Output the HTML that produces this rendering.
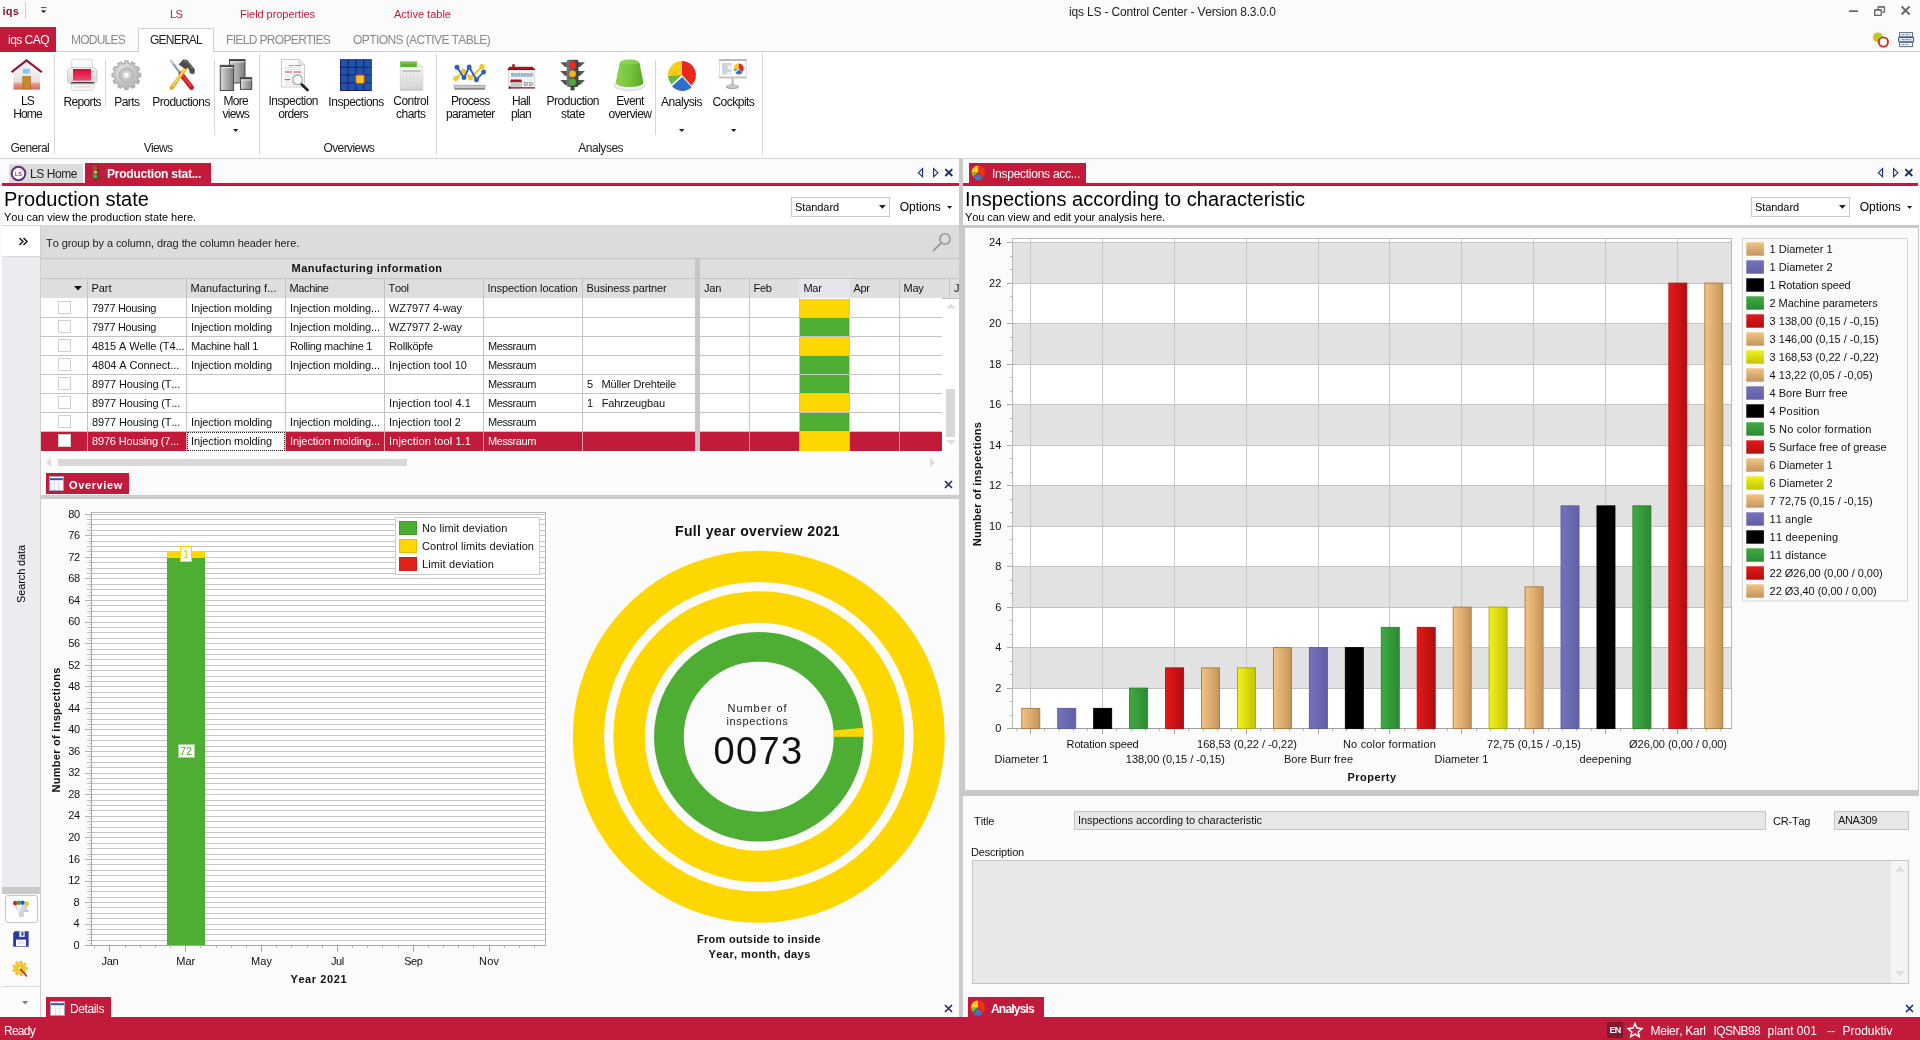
<!DOCTYPE html>
<html><head><meta charset="utf-8"><title>iqs LS</title>
<style>
html,body{margin:0;padding:0;background:#fbfbfb;}
body{width:1920px;height:1040px;position:relative;overflow:hidden;font-family:"Liberation Sans",sans-serif;font-kerning:none;}
.t{position:absolute;white-space:nowrap;}
.r{position:absolute;}
svg{overflow:visible}
svg text{font-family:"Liberation Sans",sans-serif}
#wrap{position:absolute;left:0;top:0;width:1920px;height:1040px;will-change:transform;}
</style></head><body><div id="wrap">
<div class="r" style="left:0px;top:0px;width:1920px;height:1040px;background:#fbfbfb;"></div>
<div class="t" style="left:2.60px;top:5px;font-size:11px;line-height:12px;color:#7d1433;font-weight:bold;letter-spacing:0.169px;">iqs</div>
<div class="r" style="left:25px;top:2px;width:1px;height:17px;background:#cccccc;"></div>
<svg class="r" style="left:0;top:0" width="60" height="20"><rect x="40.9" y="7.1" width="5.4" height="1" fill="#444"/><path d="M40.8 10.2h5.6l-2.8 3z" fill="#333"/></svg>
<div class="t" style="left:170.00px;top:8px;font-size:11px;line-height:12px;color:#c11a3b;letter-spacing:-0.727px;">LS</div>
<div class="t" style="left:240.00px;top:8px;font-size:11px;line-height:12px;color:#c11a3b;letter-spacing:-0.051px;">Field properties</div>
<div class="t" style="left:394.00px;top:8px;font-size:11px;line-height:12px;color:#c11a3b;letter-spacing:0.011px;">Active table</div>
<div class="t" style="left:1069.00px;top:5px;font-size:12px;line-height:14px;color:#222;letter-spacing:-0.165px;">iqs LS - Control Center - Version 8.3.0.0</div>
<svg class="r" style="left:0;top:0" width="1920" height="52"><rect x="1849" y="10.3" width="9" height="1.7" fill="#666"/><path d="M1878.2 9.3v-2.5h6.2v5.3h-2.4" fill="none" stroke="#666" stroke-width="1.3"/><rect x="1874.7" y="9.9" width="6.5" height="5.4" fill="none" stroke="#666" stroke-width="1.3"/><rect x="1874.7" y="9.4" width="6.5" height="1.2" fill="#666"/><rect x="1878.2" y="6.3" width="6.2" height="1.2" fill="#666"/><path d="M1901.6 6.5l8 8M1909.6 6.5l-8 8" stroke="#666" stroke-width="1.9"/></svg>
<div class="r" style="left:0px;top:51px;width:1920px;height:1px;background:#cfcfcf;"></div>
<div class="r" style="left:0px;top:27px;width:56px;height:25px;background:#c11a3b;"></div>
<div class="t" style="left:8.00px;top:33px;font-size:12px;line-height:14px;color:#fff;letter-spacing:-0.525px;">iqs CAQ</div>
<div class="t" style="left:71.00px;top:33px;font-size:12px;line-height:14px;color:#8a8a8a;letter-spacing:-0.763px;">MODULES</div>
<div class="r" style="left:138px;top:28px;width:76px;height:24px;background:#fff;border:1px solid #cfcfcf;border-bottom:none;box-sizing:border-box"></div>
<div class="t" style="left:150.00px;top:33px;font-size:12px;line-height:14px;color:#222;letter-spacing:-0.765px;">GENERAL</div>
<div class="t" style="left:226.00px;top:33px;font-size:12px;line-height:14px;color:#8a8a8a;letter-spacing:-0.655px;">FIELD PROPERTIES</div>
<div class="t" style="left:353.00px;top:33px;font-size:12px;line-height:14px;color:#8a8a8a;letter-spacing:-0.587px;">OPTIONS (ACTIVE TABLE)</div>
<div class="r" style="left:0px;top:52px;width:1920px;height:106px;background:#fff;"></div>
<div class="r" style="left:0px;top:158px;width:1920px;height:1px;background:#d4d4d4;"></div>
<div class="r" style="left:54px;top:54px;width:1px;height:100px;background:#d6d6d6;"></div>
<div class="r" style="left:259px;top:54px;width:1px;height:100px;background:#d6d6d6;"></div>
<div class="r" style="left:436px;top:54px;width:1px;height:100px;background:#d6d6d6;"></div>
<div class="r" style="left:762px;top:54px;width:1px;height:100px;background:#d6d6d6;"></div>
<div class="r" style="left:105px;top:60px;width:1px;height:47px;background:#d6d6d6;"></div>
<div class="r" style="left:214px;top:60px;width:1px;height:75px;background:#d6d6d6;"></div>
<div class="r" style="left:655px;top:60px;width:1px;height:75px;background:#d6d6d6;"></div>
<svg class="r" style="left:0;top:0" width="800" height="100"><defs>
<linearGradient id="gw" x1="0" x2="1"><stop offset="0" stop-color="#d8d8d8"/><stop offset="1" stop-color="#7c7c7c"/></linearGradient>
<linearGradient id="hw" x1="0" x2="0" y1="0" y2="1"><stop offset="0" stop-color="#f4f4f4"/><stop offset="0.6" stop-color="#e4e0de"/><stop offset="0.72" stop-color="#e89888"/><stop offset="1" stop-color="#d86858"/></linearGradient>
<linearGradient id="pr" x1="0" x2="0" y1="0" y2="1"><stop offset="0" stop-color="#e00838"/><stop offset="1" stop-color="#e8486a"/></linearGradient>
<linearGradient id="pb" x1="0" x2="0" y1="0" y2="1"><stop offset="0" stop-color="#f4f4f4"/><stop offset="1" stop-color="#d0d0d0"/></linearGradient>
<radialGradient id="gg" cx="0.4" cy="0.35" r="0.7"><stop offset="0" stop-color="#e6e6e6"/><stop offset="1" stop-color="#b0b0b0"/></radialGradient>
<linearGradient id="tlb" x1="0" x2="1"><stop offset="0" stop-color="#777"/><stop offset="1" stop-color="#3c3c3c"/></linearGradient>
<linearGradient id="dome" x1="0" x2="1"><stop offset="0" stop-color="#8cd050"/><stop offset="0.45" stop-color="#7cc640"/><stop offset="1" stop-color="#58a828"/></linearGradient>
<linearGradient id="cc" x1="0" x2="0" y1="0" y2="1"><stop offset="0" stop-color="#fafafa"/><stop offset="1" stop-color="#d4d4d4"/></linearGradient>
</defs><rect x="13.5" y="69.6" width="26.5" height="20" fill="url(#hw)"/><path d="M26.5 61.6L14 72.6h25z" fill="#f0f0f0"/><rect x="22.6" y="68.4" width="7.6" height="5.6" fill="#8cc4ec" stroke="#e8f0f8" stroke-width="0.8"/><rect x="22.8" y="76.5" width="7.6" height="12.5" fill="#c8882c" stroke="#a06818" stroke-width="0.6"/><path d="M11.6 72.2L26.5 60.4 41.8 72.2" fill="none" stroke="#8e1838" stroke-width="2.2" stroke-linejoin="miter"/><rect x="71.7" y="59.3" width="20.5" height="12" rx="1" fill="#fbfbfb" stroke="#d0d0d0" stroke-width="0.8"/><rect x="67.5" y="67.5" width="29.5" height="17" rx="4.5" fill="url(#pb)" stroke="#c4c4c4" stroke-width="0.8"/><rect x="73" y="69" width="18" height="11.6" fill="url(#pr)"/><rect x="71" y="82" width="23" height="1.6" rx="0.8" fill="#444"/><rect x="71.5" y="84.2" width="22" height="6.3" rx="1" fill="#f4f4f4" stroke="#d4d4d4" stroke-width="0.7"/><rect x="74" y="86.3" width="17" height="1" fill="#e8c8d0"/><circle cx="93" cy="71.6" r="0.8" fill="#7a9"/><path d="M138.15 73.24L140.61 73.53L140.61 76.67L138.15 76.96L137.51 79.36L139.49 80.85L137.92 83.57L135.65 82.59L133.89 84.35L134.87 86.62L132.15 88.19L130.66 86.21L128.26 86.85L127.97 89.31L124.83 89.31L124.54 86.85L122.14 86.21L120.65 88.19L117.93 86.62L118.91 84.35L117.15 82.59L114.88 83.57L113.31 80.85L115.29 79.36L114.65 76.96L112.19 76.67L112.19 73.53L114.65 73.24L115.29 70.84L113.31 69.35L114.88 66.63L117.15 67.61L118.91 65.85L117.93 63.58L120.65 62.01L122.14 63.99L124.54 63.35L124.83 60.89L127.97 60.89L128.26 63.35L130.66 63.99L132.15 62.01L134.87 63.58L133.89 65.85L135.65 67.61L137.92 66.63L139.49 69.35L137.51 70.84Z" fill="url(#gg)" stroke="#b0b0b0" stroke-width="1.4" stroke-linejoin="round"/><circle cx="126.4" cy="75" r="7.3" fill="#c4c4c4" stroke="#a8a8a8" stroke-width="0.8"/><circle cx="126.4" cy="75" r="4.6" fill="#d8d8d8" stroke="#b4b4b4" stroke-width="0.6"/><circle cx="126.4" cy="75" r="2.3" fill="#fff"/><path d="M171 60.8L181.5 75" stroke="#94a2b8" stroke-width="2.3" stroke-linecap="round"/><path d="M171 60.8L173 63.4" stroke="#c8d0dc" stroke-width="2.3" stroke-linecap="round"/><path d="M181 74L191.5 87.5" stroke="#cc1c24" stroke-width="5" stroke-linecap="round"/><path d="M171.5 88L187 66.5" stroke="#f0b41c" stroke-width="3.6" stroke-linecap="round"/><path d="M171.5 88L175 83" stroke="#e0a414" stroke-width="3.6" stroke-linecap="round"/><path d="M172.4 86.4L186 67.4" stroke="#ffe070" stroke-width="1.1" stroke-linecap="round"/><path d="M183 76L190.5 85.6" stroke="#f0505a" stroke-width="1.2" stroke-linecap="round"/><path d="M179 64.4L183.2 59.7 187.3 60.2 194.6 69.6 194.1 73.8 190.5 73.3 188.4 67.5 185.2 68.6 181.1 66z" fill="#4c4c4c" stroke="#3a3a3a" stroke-width="0.5" stroke-linejoin="round"/><path d="M183.6 61l3.2 0.4 5.6 7.4" fill="none" stroke="#8a8a8a" stroke-width="0.9"/><rect x="229.5" y="59.5" width="15.5" height="23.5" fill="url(#gw)" stroke="#4c4c4c" stroke-width="1"/><rect x="230.0" y="60.0" width="14.5" height="1.3" fill="#3c3c3c"/><rect x="230.0" y="61.4" width="14.5" height="0.9" fill="#f8f8f8"/><rect x="220.3" y="65.3" width="13.3" height="25.2" fill="url(#gw)" stroke="#4c4c4c" stroke-width="1"/><rect x="220.8" y="65.8" width="12.3" height="1.3" fill="#3c3c3c"/><rect x="220.8" y="67.2" width="12.3" height="0.9" fill="#f8f8f8"/><rect x="240.5" y="77.6" width="11.2" height="11.8" fill="url(#gw)" stroke="#4c4c4c" stroke-width="1"/><rect x="241.0" y="78.1" width="10.2" height="1.3" fill="#3c3c3c"/><rect x="241.0" y="79.5" width="10.2" height="0.9" fill="#f8f8f8"/><path d="M281.5 59.5h17.5l5.5 5.5v22h-23z" fill="#fbfbfb" stroke="#c4c4c4" stroke-width="0.9"/><path d="M299 59.5v5.5h5.5z" fill="#e8e8e8" stroke="#c4c4c4" stroke-width="0.7"/><rect x="284.5" y="67" width="17" height="0.7" fill="#e0d8dc"/><rect x="284.5" y="69.2" width="17" height="0.7" fill="#e0d8dc"/><rect x="284.5" y="74.5" width="17" height="0.7" fill="#e0d8dc"/><rect x="284.5" y="76.6" width="17" height="0.7" fill="#e0d8dc"/><rect x="284.5" y="82" width="17" height="0.7" fill="#e0d8dc"/><rect x="284.5" y="84" width="17" height="0.7" fill="#e0d8dc"/><rect x="284.8" y="71.4" width="7" height="1.2" fill="#e0507a"/><rect x="293.5" y="71.4" width="7.5" height="1.2" fill="#e0507a"/><rect x="284.8" y="79" width="5.5" height="1.2" fill="#e0507a"/><rect x="289" y="65" width="5" height="1.1" fill="#e8809c"/><rect x="295" y="65" width="6" height="1.1" fill="#e8809c"/><path d="M301.5 84.2L307.5 90" stroke="#222" stroke-width="2.6" stroke-linecap="round"/><circle cx="297.6" cy="79.8" r="4.9" fill="#f4f6f8" fill-opacity="0.88" stroke="#a0a0a0" stroke-width="1.1"/><rect x="340" y="59.2" width="31.8" height="31.8" fill="#24186c"/><rect x="340.90" y="60.10" width="6.8" height="6.8" fill="#1f55a8"/><rect x="348.65" y="60.10" width="6.8" height="6.8" fill="#1f55a8"/><rect x="356.40" y="60.10" width="6.8" height="6.8" fill="#1f55a8"/><rect x="364.15" y="60.10" width="6.8" height="6.8" fill="#1f55a8"/><rect x="340.90" y="67.85" width="6.8" height="6.8" fill="#1f55a8"/><rect x="348.65" y="67.85" width="6.8" height="6.8" fill="#1f55a8"/><rect x="356.40" y="67.85" width="6.8" height="6.8" fill="#1f55a8"/><rect x="364.15" y="67.85" width="6.8" height="6.8" fill="#1f55a8"/><rect x="340.90" y="75.60" width="6.8" height="6.8" fill="#1f55a8"/><rect x="348.65" y="75.60" width="6.8" height="6.8" fill="#1f55a8"/><rect x="356.40" y="75.60" width="6.8" height="6.8" fill="#1f55a8"/><rect x="364.15" y="75.60" width="6.8" height="6.8" fill="#1f55a8"/><rect x="340.90" y="83.35" width="6.8" height="6.8" fill="#1f55a8"/><rect x="348.65" y="83.35" width="6.8" height="6.8" fill="#1f55a8"/><rect x="356.40" y="83.35" width="6.8" height="6.8" fill="#1f55a8"/><rect x="364.15" y="83.35" width="6.8" height="6.8" fill="#1f55a8"/><rect x="355.9" y="75.1" width="8.2" height="8.2" fill="#ffc818" stroke="#e04818" stroke-width="0.9"/><path d="M400.3 66.5h16.5l6 0v24h-22.5z" fill="url(#cc)" stroke="#cfcfcf" stroke-width="0.7"/><path d="M400.3 61.6h16.8v5.6h-16.8z" fill="#5cb030"/><path d="M400.3 61.6h16.8v2h-16.8z" fill="#7cc848"/><path d="M417.1 61.6l5.7 5.6h-5.7z" fill="#e8ece4" stroke="#d0d4cc" stroke-width="0.5"/><rect x="402.3" y="70" width="18.5" height="2.2" fill="#c4c4c4"/><rect x="402.3" y="74.65" width="18.5" height="0.6" fill="#d8d8d8"/><rect x="402.3" y="77.10" width="18.5" height="0.6" fill="#d8d8d8"/><rect x="402.3" y="79.55" width="18.5" height="0.6" fill="#d8d8d8"/><rect x="402.3" y="82.00" width="18.5" height="0.6" fill="#d8d8d8"/><rect x="402.3" y="84.45" width="18.5" height="0.6" fill="#d8d8d8"/><rect x="402.3" y="86.90" width="18.5" height="0.6" fill="#d8d8d8"/><rect x="402.30" y="72.2" width="0.6" height="15.2" fill="#d8d8d8"/><rect x="406.00" y="72.2" width="0.6" height="15.2" fill="#d8d8d8"/><rect x="409.70" y="72.2" width="0.6" height="15.2" fill="#d8d8d8"/><rect x="413.40" y="72.2" width="0.6" height="15.2" fill="#d8d8d8"/><rect x="417.10" y="72.2" width="0.6" height="15.2" fill="#d8d8d8"/><rect x="420.80" y="72.2" width="0.6" height="15.2" fill="#d8d8d8"/><rect x="400.3" y="88.3" width="22.5" height="2.2" fill="#cfcfcf"/><path d="M454 85.3h31.5l-1 4h-29.5z" fill="#c8c8c8" stroke="#9c9c9c" stroke-width="0.7"/><rect x="454.6" y="88" width="30" height="1.5" fill="#888"/><path d="M455.8 78.6L463.6 71.2 470.4 78 482 66.6" fill="none" stroke="#f0c010" stroke-width="1.8"/><path d="M457 67.2L464 77.6 469.2 67 476.4 79.8 483.6 72" fill="none" stroke="#2858c0" stroke-width="1.8"/><circle cx="455.8" cy="78.6" r="2.3" fill="#f8cc20" stroke="#d8a800" stroke-width="0.5"/><circle cx="463.6" cy="71.2" r="2.3" fill="#f8cc20" stroke="#d8a800" stroke-width="0.5"/><circle cx="470.4" cy="78" r="2.3" fill="#f8cc20" stroke="#d8a800" stroke-width="0.5"/><circle cx="482" cy="66.6" r="2.3" fill="#f8cc20" stroke="#d8a800" stroke-width="0.5"/><circle cx="457" cy="67.2" r="2.2" fill="#2c60c8" stroke="#1c48a0" stroke-width="0.5"/><circle cx="464" cy="77.6" r="2.2" fill="#2c60c8" stroke="#1c48a0" stroke-width="0.5"/><circle cx="469.2" cy="67" r="2.2" fill="#2c60c8" stroke="#1c48a0" stroke-width="0.5"/><circle cx="476.4" cy="79.8" r="2.2" fill="#2c60c8" stroke="#1c48a0" stroke-width="0.5"/><circle cx="483.6" cy="72" r="2.2" fill="#2c60c8" stroke="#1c48a0" stroke-width="0.5"/><rect x="508.6" y="69.4" width="26.2" height="19" fill="#f2f2f2" stroke="#c0c0c0" stroke-width="0.6"/><rect x="512.2" y="64.2" width="2.6" height="3.6" fill="#b01828"/><path d="M507.6 69.6l1.6-2.8h23.4l2.6 2.8z" fill="#a81424"/><rect x="507.6" y="69" width="27.6" height="1" fill="#7c0c18"/><rect x="511.5" y="73.4" width="20.8" height="2.8" fill="#8cb0d8" stroke="#7890a8" stroke-width="0.4"/><rect x="514.47" y="73.4" width="0.6" height="2.8" fill="#e8eef4"/><rect x="517.44" y="73.4" width="0.6" height="2.8" fill="#e8eef4"/><rect x="520.41" y="73.4" width="0.6" height="2.8" fill="#e8eef4"/><rect x="523.38" y="73.4" width="0.6" height="2.8" fill="#e8eef4"/><rect x="526.35" y="73.4" width="0.6" height="2.8" fill="#e8eef4"/><rect x="529.32" y="73.4" width="0.6" height="2.8" fill="#e8eef4"/><path d="M510 82.2l1-2.8h10.2l1 2.8z" fill="#a81424"/><rect x="511.3" y="82.2" width="10" height="6.4" fill="#d4d4d4" stroke="#a8a8a8" stroke-width="0.5"/><rect x="511.3" y="83.80" width="10" height="0.5" fill="#b4b4b4"/><rect x="511.3" y="85.40" width="10" height="0.5" fill="#b4b4b4"/><rect x="511.3" y="87.00" width="10" height="0.5" fill="#b4b4b4"/><rect x="524.2" y="82.4" width="3.2" height="3.2" fill="#c0d0e0" stroke="#888" stroke-width="0.6"/><rect x="529.2" y="82.4" width="3.2" height="3.2" fill="#c0d0e0" stroke="#888" stroke-width="0.6"/><rect x="508.6" y="87.2" width="26.2" height="1.2" fill="#a81424"/><rect x="509" y="86.4" width="1.6" height="2.4" fill="#333"/><g transform="translate(560.2,59.2) scale(0.99)"><path d="M0 3h25l-5 5h-15zM0 12h25l-5 5h-15zM0 21h25l-5 5h-15z" fill="#555"/><rect x="6.5" y="0.5" width="12" height="27.5" rx="2" fill="url(#tlb)"/><rect x="10.5" y="27" width="4" height="4.5" fill="#444"/><circle cx="12.5" cy="6" r="3.4" fill="#ee2a1c"/><circle cx="12.5" cy="14.7" r="3.4" fill="#f6b41c"/><circle cx="12.5" cy="23.2" r="3.4" fill="#48b030"/></g><ellipse cx="629.5" cy="85.2" rx="15.4" ry="5.3" fill="#ececec" stroke="#c8c8c8" stroke-width="0.7"/><ellipse cx="629.5" cy="84.2" rx="14" ry="4.2" fill="#fafafa"/><path d="M619.6 63.5Q620 59.6 629.5 59.4Q639.2 59.6 639.6 63.5L643.4 82.6Q643 87 629.5 87Q616 87 615.7 82.6Z" fill="url(#dome)"/><ellipse cx="629.5" cy="62.3" rx="9.3" ry="2.3" fill="#90d458" fill-opacity="0.8"/><path d="M682.00 75.00L681.51 61.01A14 14 0 0 1 691.37 85.40Z" fill="#e8281c"/><path d="M682.40 76.90L691.77 87.30A14 14 0 0 1 672.00 86.27Z" fill="#2f6fc8"/><path d="M682.00 75.00L671.60 84.37A14 14 0 0 1 668.01 75.49Z" fill="#6cb83a"/><path d="M682.00 75.00L668.01 75.49A14 14 0 0 1 681.51 61.01Z" fill="#f8cc18"/><rect x="719.6" y="60" width="26.6" height="17.6" fill="#fcfcfc" stroke="#d0d4d8" stroke-width="0.8"/><rect x="719" y="59" width="27.9" height="2.1" rx="0.8" fill="#b8b8b8"/><rect x="719" y="76.4" width="27.9" height="2.1" rx="0.8" fill="#c4c4c4"/><rect x="722" y="63" width="9.4" height="11.4" fill="#ccd4e0"/><rect x="727.5" y="65.6" width="4" height="3.6" fill="#f4f4f4"/><rect x="727.5" y="72" width="4" height="2.4" fill="#f4f4f4"/><path d="M738.60 68.40L738.43 63.40A5 5 0 0 1 741.95 72.12Z" fill="#e8281c"/><path d="M739.10 69.40L742.45 73.12A5 5 0 0 1 735.38 72.75Z" fill="#2f6fc8"/><path d="M738.60 68.40L734.88 71.75A5 5 0 0 1 733.60 68.57Z" fill="#6cb83a"/><path d="M738.60 68.40L733.60 68.57A5 5 0 0 1 738.43 63.40Z" fill="#f8cc18"/><rect x="731.5" y="78.5" width="2" height="7" fill="#b4b4b4"/><ellipse cx="732.5" cy="86.8" rx="6.6" ry="2.5" fill="#a8a8a8"/><ellipse cx="732.5" cy="86.2" rx="5.6" ry="1.7" fill="#c8c8c8"/></svg>
<div class="t" style="left:21.00px;top:94px;font-size:12px;line-height:14px;color:#111;letter-spacing:-0.839px;">LS</div>
<div class="t" style="left:13.25px;top:107px;font-size:12px;line-height:14px;color:#111;letter-spacing:-0.877px;">Home</div>
<div class="t" style="left:63.45px;top:95px;font-size:12px;line-height:14px;color:#111;letter-spacing:-0.645px;">Reports</div>
<div class="t" style="left:114.30px;top:95px;font-size:12px;line-height:14px;color:#111;letter-spacing:-0.602px;">Parts</div>
<div class="t" style="left:152.30px;top:95px;font-size:12px;line-height:14px;color:#111;letter-spacing:-0.525px;">Productions</div>
<div class="t" style="left:223.50px;top:94px;font-size:12px;line-height:14px;color:#111;letter-spacing:-0.685px;">More</div>
<div class="t" style="left:222.55px;top:107px;font-size:12px;line-height:14px;color:#111;letter-spacing:-0.701px;">views</div>
<svg class="r" style="left:233.10000000000002px;top:128.5px" width="6" height="4"><path d="M0 0h5.4l-2.7 3z" fill="#222"/></svg>
<div class="t" style="left:268.40px;top:94px;font-size:12px;line-height:14px;color:#111;letter-spacing:-0.510px;">Inspection</div>
<div class="t" style="left:278.30px;top:107px;font-size:12px;line-height:14px;color:#111;letter-spacing:-0.702px;">orders</div>
<div class="t" style="left:328.35px;top:95px;font-size:12px;line-height:14px;color:#111;letter-spacing:-0.473px;">Inspections</div>
<div class="t" style="left:393.30px;top:94px;font-size:12px;line-height:14px;color:#111;letter-spacing:-0.526px;">Control</div>
<div class="t" style="left:396.10px;top:107px;font-size:12px;line-height:14px;color:#111;letter-spacing:-0.546px;">charts</div>
<div class="t" style="left:451.00px;top:94px;font-size:12px;line-height:14px;color:#111;letter-spacing:-0.678px;">Process</div>
<div class="t" style="left:445.90px;top:107px;font-size:12px;line-height:14px;color:#111;letter-spacing:-0.655px;">parameter</div>
<div class="t" style="left:512.00px;top:94px;font-size:12px;line-height:14px;color:#111;letter-spacing:-0.668px;">Hall</div>
<div class="t" style="left:511.00px;top:107px;font-size:12px;line-height:14px;color:#111;letter-spacing:-0.672px;">plan</div>
<div class="t" style="left:546.55px;top:94px;font-size:12px;line-height:14px;color:#111;letter-spacing:-0.487px;">Production</div>
<div class="t" style="left:561.00px;top:107px;font-size:12px;line-height:14px;color:#111;letter-spacing:-0.483px;">state</div>
<div class="t" style="left:616.15px;top:94px;font-size:12px;line-height:14px;color:#111;letter-spacing:-0.597px;">Event</div>
<div class="t" style="left:608.55px;top:107px;font-size:12px;line-height:14px;color:#111;letter-spacing:-0.556px;">overview</div>
<div class="t" style="left:660.95px;top:95px;font-size:12px;line-height:14px;color:#111;letter-spacing:-0.448px;">Analysis</div>
<svg class="r" style="left:678.8px;top:128.5px" width="6" height="4"><path d="M0 0h5.4l-2.7 3z" fill="#222"/></svg>
<div class="t" style="left:712.45px;top:95px;font-size:12px;line-height:14px;color:#111;letter-spacing:-0.514px;">Cockpits</div>
<svg class="r" style="left:730.6999999999999px;top:128.5px" width="6" height="4"><path d="M0 0h5.4l-2.7 3z" fill="#222"/></svg>
<div class="t" style="left:10.60px;top:141px;font-size:12px;line-height:14px;color:#222;letter-spacing:-0.613px;">General</div>
<div class="t" style="left:143.80px;top:141px;font-size:12px;line-height:14px;color:#222;letter-spacing:-0.719px;">Views</div>
<div class="t" style="left:323.40px;top:141px;font-size:12px;line-height:14px;color:#222;letter-spacing:-0.579px;">Overviews</div>
<div class="t" style="left:578.30px;top:141px;font-size:12px;line-height:14px;color:#222;letter-spacing:-0.486px;">Analyses</div>
<svg class="r" style="left:0;top:0" width="1920" height="52"><circle cx="1877.8" cy="37.3" r="4.9" fill="#e8b818"/><circle cx="1878.6" cy="37.6" r="4" fill="#b8cc20"/><circle cx="1883.4" cy="42" r="4.6" fill="#fff" stroke="#d42c1c" stroke-width="1.9"/><rect x="1899.6" y="32.6" width="13" height="4.2" fill="#fbfbfb" stroke="#5a6878" stroke-width="1"/><rect x="1898.6" y="37.4" width="15" height="4.4" rx="0.8" fill="#dcecfc" stroke="#4a6078" stroke-width="1.1"/><rect x="1899.6" y="42.4" width="13" height="4.2" fill="#fbfbfb" stroke="#5a6878" stroke-width="1"/><path d="M1901.5 34.7h9M1901.5 39.6h9.5M1901.5 44.5h7" stroke="#6a7888" stroke-width="0.9" stroke-dasharray="3 1"/></svg>
<div class="r" style="left:9px;top:164px;width:74px;height:19px;background:#dcdcdc;"></div>
<svg class="r" style="left:10px;top:165px" width="17" height="17"><circle cx="8.5" cy="8.5" r="6.8" fill="#fff" stroke="#6a2a8a" stroke-width="2"/><text x="8.5" y="10.6" font-size="5.5" font-weight="bold" text-anchor="middle" fill="#6a2a8a" font-family="Liberation Sans">LS</text></svg>
<div class="t" style="left:30.00px;top:167px;font-size:12px;line-height:14px;color:#222;letter-spacing:-0.432px;">LS Home</div>
<div class="r" style="left:85px;top:163px;width:126px;height:21px;background:#c11a3b;"></div>
<svg class="r" style="left:0;top:0" width="200" height="200"><defs><linearGradient id="tlb2" x1="0" x2="1"><stop offset="0" stop-color="#7a6a50"/><stop offset="1" stop-color="#3c3830"/></linearGradient></defs><g transform="translate(90.3,165)"><path d="M0 1.5h10.6l-2 2.6h-6.6zM0 6h10.6l-2 2.6h-6.6zM0 10.5h10.6l-2 2.6h-6.6z" fill="#5a5040"/><rect x="2.6" y="0" width="5.4" height="14" rx="1" fill="url(#tlb2)"/><rect x="4.3" y="13.5" width="2" height="2.3" fill="#444"/><circle cx="5.3" cy="2.9" r="1.7" fill="#e83a20"/><circle cx="5.3" cy="7.2" r="1.7" fill="#f4b020"/><circle cx="5.3" cy="11.4" r="1.7" fill="#58b838"/></g></svg>
<div class="t" style="left:107.00px;top:167px;font-size:12px;line-height:14px;color:#fff;font-weight:bold;letter-spacing:-0.222px;">Production stat...</div>
<div class="r" style="left:2px;top:183px;width:957px;height:3px;background:#c11a3b;"></div>
<svg class="r" style="left:915px;top:166px" width="42" height="14"><path d="M7.6 2.6v8.2l-4.3-4.1z" fill="none" stroke="#1a2a6a" stroke-width="1.1"/><path d="M18.6 2.6v8.2l4.3-4.1z" fill="none" stroke="#1a2a6a" stroke-width="1.1"/><path d="M30.3 3.2l7 6.8M37.3 3.2l-7 6.8" stroke="#1a2a6a" stroke-width="1.8"/></svg>
<div class="r" style="left:969px;top:163px;width:117px;height:21px;background:#c11a3b;"></div>
<svg class="r" style="left:0;top:0" width="1920" height="1040"><path d="M978.30 172.30L978.06 165.50A6.8 6.8 0 0 1 982.85 177.35Z" fill="#ee3018"/><path d="M978.60 173.40L983.15 178.45A6.8 6.8 0 0 1 973.55 177.95Z" fill="#3878c8"/><path d="M978.30 172.30L973.25 176.85A6.8 6.8 0 0 1 971.50 172.54Z" fill="#70bc38"/><path d="M978.30 172.30L971.50 172.54A6.8 6.8 0 0 1 978.06 165.50Z" fill="#fad018"/></svg>
<div class="t" style="left:992.00px;top:167px;font-size:12px;line-height:14px;color:#fff;letter-spacing:-0.262px;">Inspections acc...</div>
<div class="r" style="left:963px;top:183px;width:955px;height:3px;background:#c11a3b;"></div>
<svg class="r" style="left:1875px;top:166px" width="42" height="14"><path d="M7.6 2.6v8.2l-4.3-4.1z" fill="none" stroke="#1a2a6a" stroke-width="1.1"/><path d="M18.6 2.6v8.2l4.3-4.1z" fill="none" stroke="#1a2a6a" stroke-width="1.1"/><path d="M30.3 3.2l7 6.8M37.3 3.2l-7 6.8" stroke="#1a2a6a" stroke-width="1.8"/></svg>
<div class="r" style="left:959px;top:159px;width:4px;height:858px;background:#cacaca;"></div>
<div class="r" style="left:2px;top:186px;width:957px;height:40px;background:#fff;"></div>
<div class="t" style="left:4.00px;top:188px;font-size:20px;line-height:22px;color:#000;letter-spacing:0.029px;">Production state</div>
<div class="t" style="left:4.00px;top:211px;font-size:11px;line-height:12px;color:#000;letter-spacing:-0.031px;">You can view the production state here.</div>
<div class="r" style="left:791px;top:197px;width:99px;height:20px;background:#fff;border:1px solid #c6c6c6;box-sizing:border-box"></div><div class="t" style="left:795.00px;top:201px;font-size:11px;line-height:12px;color:#000;letter-spacing:-0.081px;">Standard</div><svg class="r" style="left:879.2px;top:205.2px" width="8" height="5"><path d="M0 0h6.8l-3.4 3.8z" fill="#222"/></svg><div class="t" style="left:899.80px;top:200px;font-size:12px;line-height:14px;color:#000;letter-spacing:-0.051px;">Options</div><svg class="r" style="left:946.8px;top:206px" width="6" height="4"><path d="M0 0h5.2l-2.6 2.9z" fill="#222"/></svg>
<div class="r" style="left:2px;top:225px;width:957px;height:1px;background:#d8d8d8;"></div>
<div class="r" style="left:2px;top:226px;width:38px;height:792px;background:#ececf0;"></div>
<div class="r" style="left:2px;top:226px;width:38px;height:30px;background:#fff;"></div>
<div class="r" style="left:2px;top:256px;width:38px;height:1px;background:#d8d8d8;"></div>
<svg class="r" style="left:18px;top:237px" width="10" height="9"><path d="M1.5 1l3.5 3.5-3.5 3.5M5.5 1l3.5 3.5-3.5 3.5" fill="none" stroke="#111" stroke-width="1.4"/></svg>
<div class="t" style="left:0.00px;top:-10px;font-size:11px;line-height:12px;color:#000;letter-spacing:-0.120px;left:-8px;top:567.5px;transform:rotate(-90deg);transform-origin:center;width:58px;white-space:nowrap">Search data</div>
<div class="r" style="left:2px;top:887px;width:38px;height:7px;background:#c8c8c8;"></div>
<div class="r" style="left:2px;top:894px;width:38px;height:123px;background:#fcfcfc;"></div>
<div class="r" style="left:4.5px;top:895px;width:33px;height:27.5px;background:#fff;border:1px solid #c4c4c4;border-radius:3px;box-sizing:border-box"></div>
<svg class="r" style="left:0;top:0" width="44" height="1040"><path d="M13.8 904.5h15l-5.6 8v4h-3.6v-4z" fill="#d4d8dc" stroke="#b0b4b8" stroke-width="0.6"/><path d="M16 905.3h6l-2.4 7z" fill="#f4f6f8"/><path d="M25 909.5h3.6v2.6h-5z" fill="#c8ccd0"/><circle cx="15.2" cy="903" r="2.2" fill="#e02020"/><circle cx="18.8" cy="902.6" r="2.2" fill="#38a838"/><circle cx="22.6" cy="902.6" r="2.2" fill="#2858c8"/><circle cx="26.8" cy="903.4" r="2.2" fill="#f0c820"/><path d="M14.8 931.3h13.8v15.4h-15.4v-13.8z" fill="#2c3a9c"/><rect x="19.3" y="931.3" width="5.4" height="5.6" fill="#e8ecf8"/><rect x="21.6" y="932.2" width="1.8" height="3.4" fill="#2c3a9c"/><rect x="16" y="939.6" width="10" height="6.6" fill="#fbfbff"/><rect x="17.5" y="941.6" width="7" height="0.7" fill="#c8cce0"/><rect x="17.5" y="943.4" width="7" height="0.7" fill="#c8cce0"/><path d="M25.48 967.24L27.32 967.32L27.32 969.48L25.48 969.56L24.94 971.03L26.30 972.28L24.91 973.93L23.45 972.81L22.10 973.59L22.34 975.42L20.21 975.80L19.80 974.00L18.27 973.73L17.28 975.28L15.40 974.20L16.25 972.56L15.25 971.37L13.49 971.92L12.75 969.89L14.45 969.18L14.45 967.62L12.75 966.91L13.49 964.88L15.25 965.43L16.25 964.24L15.40 962.60L17.28 961.52L18.27 963.07L19.80 962.80L20.21 961.00L22.34 961.38L22.10 963.21L23.45 963.99L24.91 962.87L26.30 964.52L24.94 965.77Z" fill="#f4cc30" stroke="#dcae18" stroke-width="0.6" stroke-linejoin="round"/><circle cx="20" cy="968.4" r="2" fill="#fbf4d0" stroke="#b89818" stroke-width="0.6"/><path d="M21.6 970.4L26.6 976" stroke="#c81818" stroke-width="1.5" stroke-linecap="round"/><circle cx="20.8" cy="969.4" r="0.9" fill="#444"/></svg>
<div class="r" style="left:2px;top:986px;width:38px;height:1px;background:#d8d8d8;"></div>
<svg class="r" style="left:21.5px;top:1001px" width="8" height="5"><path d="M0 0h6.4l-3.2 3.4z" fill="#808080"/></svg>
<div class="r" style="left:40px;top:226px;width:919px;height:33px;background:#dcdcdc;"></div>
<div class="t" style="left:46.00px;top:237px;font-size:11px;line-height:12px;color:#222;letter-spacing:-0.072px;">To group by a column, drag the column header here.</div>
<svg class="r" style="left:930px;top:231px" width="24" height="22"><circle cx="15" cy="8" r="5.2" fill="none" stroke="#999" stroke-width="1.6"/><path d="M11.2 12L3 20" stroke="#999" stroke-width="1.8"/></svg>
<div class="r" style="left:40px;top:258px;width:919px;height:41px;background:#dedede;"></div>
<div class="r" style="left:40px;top:258px;width:919px;height:1px;background:#c3c3c3;"></div>
<div class="r" style="left:40px;top:278px;width:919px;height:1px;background:#c3c3c3;"></div>
<div class="r" style="left:40px;top:298px;width:919px;height:1px;background:#c3c3c3;"></div>
<div class="r" style="left:40px;top:298px;width:902px;height:153px;background:#fff;"></div>
<div class="r" style="left:942px;top:299px;width:17px;height:170px;background:#fff;"></div>
<div class="t" style="left:291.50px;top:262px;font-size:11px;line-height:12px;color:#111;font-weight:bold;letter-spacing:0.467px;">Manufacturing information</div>
<div class="r" style="left:87px;top:279px;width:1px;height:172px;background:#c3c3c3;"></div>
<div class="r" style="left:186px;top:279px;width:1px;height:172px;background:#c3c3c3;"></div>
<div class="r" style="left:285px;top:279px;width:1px;height:172px;background:#c3c3c3;"></div>
<div class="r" style="left:384px;top:279px;width:1px;height:172px;background:#c3c3c3;"></div>
<div class="r" style="left:483px;top:279px;width:1px;height:172px;background:#c3c3c3;"></div>
<div class="r" style="left:582px;top:279px;width:1px;height:172px;background:#c3c3c3;"></div>
<div class="t" style="left:91.50px;top:282px;font-size:11px;line-height:12px;color:#111;letter-spacing:-0.043px;">Part</div>
<div class="t" style="left:190.50px;top:282px;font-size:11px;line-height:12px;color:#111;letter-spacing:0.056px;">Manufacturing f...</div>
<div class="t" style="left:289.50px;top:282px;font-size:11px;line-height:12px;color:#111;letter-spacing:-0.368px;">Machine</div>
<div class="t" style="left:388.50px;top:282px;font-size:11px;line-height:12px;color:#111;letter-spacing:-0.295px;">Tool</div>
<div class="t" style="left:487.50px;top:282px;font-size:11px;line-height:12px;color:#111;letter-spacing:-0.059px;">Inspection location</div>
<div class="t" style="left:586.50px;top:282px;font-size:11px;line-height:12px;color:#111;letter-spacing:-0.159px;">Business partner</div>
<svg class="r" style="left:74px;top:286px" width="8" height="5"><path d="M0 0h8l-4 4.5z" fill="#111"/></svg>
<div class="t" style="left:704.00px;top:282px;font-size:11px;line-height:12px;color:#111;letter-spacing:-0.245px;">Jan</div>
<div class="t" style="left:753.50px;top:282px;font-size:11px;line-height:12px;color:#111;letter-spacing:-0.318px;">Feb</div>
<div class="r" style="left:749px;top:279px;width:1px;height:172px;background:#c3c3c3;"></div>
<div class="t" style="left:803.50px;top:282px;font-size:11px;line-height:12px;color:#111;letter-spacing:-0.315px;">Mar</div>
<div class="r" style="left:799px;top:279px;width:1px;height:172px;background:#c3c3c3;"></div>
<div class="t" style="left:853.50px;top:282px;font-size:11px;line-height:12px;color:#111;letter-spacing:-0.373px;">Apr</div>
<div class="r" style="left:849px;top:279px;width:1px;height:172px;background:#c3c3c3;"></div>
<div class="t" style="left:903.50px;top:282px;font-size:11px;line-height:12px;color:#111;letter-spacing:-0.260px;">May</div>
<div class="r" style="left:899px;top:279px;width:1px;height:172px;background:#c3c3c3;"></div>
<div class="r" style="left:949px;top:279px;width:1px;height:19px;background:#c3c3c3;"></div>
<div class="t" style="left:954.00px;top:282px;font-size:11px;line-height:12px;color:#111;">J</div>
<div class="r" style="left:799px;top:279px;width:51px;height:19px;background:#e4e6ea;"></div>
<div class="t" style="left:803.50px;top:282px;font-size:11px;line-height:12px;color:#111;letter-spacing:-0.315px;">Mar</div>
<div class="r" style="left:40px;top:317px;width:902px;height:1px;background:#c3c3c3;"></div>
<div class="r" style="left:58px;top:301px;width:13px;height:13px;background:#fff;border:1px solid #d0d0d0;box-sizing:border-box"></div>
<div class="t" style="left:92.00px;top:302px;font-size:11px;line-height:12px;color:#111;letter-spacing:-0.324px;white-space:pre;">7977 Housing</div>
<div class="t" style="left:191.00px;top:302px;font-size:11px;line-height:12px;color:#111;letter-spacing:-0.091px;white-space:pre;">Injection molding</div>
<div class="t" style="left:290.00px;top:302px;font-size:11px;line-height:12px;color:#111;letter-spacing:-0.086px;white-space:pre;">Injection molding...</div>
<div class="t" style="left:389.00px;top:302px;font-size:11px;line-height:12px;color:#111;letter-spacing:-0.081px;white-space:pre;">WZ7977 4-way</div>
<div class="r" style="left:800px;top:299px;width:49px;height:18px;background:#ffd700;"></div>
<div class="r" style="left:40px;top:336px;width:902px;height:1px;background:#c3c3c3;"></div>
<div class="r" style="left:58px;top:320px;width:13px;height:13px;background:#fff;border:1px solid #d0d0d0;box-sizing:border-box"></div>
<div class="t" style="left:92.00px;top:321px;font-size:11px;line-height:12px;color:#111;letter-spacing:-0.324px;white-space:pre;">7977 Housing</div>
<div class="t" style="left:191.00px;top:321px;font-size:11px;line-height:12px;color:#111;letter-spacing:-0.091px;white-space:pre;">Injection molding</div>
<div class="t" style="left:290.00px;top:321px;font-size:11px;line-height:12px;color:#111;letter-spacing:-0.086px;white-space:pre;">Injection molding...</div>
<div class="t" style="left:389.00px;top:321px;font-size:11px;line-height:12px;color:#111;letter-spacing:-0.081px;white-space:pre;">WZ7977 2-way</div>
<div class="r" style="left:800px;top:318px;width:49px;height:18px;background:#4ead33;"></div>
<div class="r" style="left:40px;top:355px;width:902px;height:1px;background:#c3c3c3;"></div>
<div class="r" style="left:58px;top:339px;width:13px;height:13px;background:#fff;border:1px solid #d0d0d0;box-sizing:border-box"></div>
<div class="t" style="left:92.00px;top:340px;font-size:11px;line-height:12px;color:#111;letter-spacing:-0.091px;white-space:pre;">4815 A Welle (T4...</div>
<div class="t" style="left:191.00px;top:340px;font-size:11px;line-height:12px;color:#111;letter-spacing:-0.281px;white-space:pre;">Machine hall 1</div>
<div class="t" style="left:290.00px;top:340px;font-size:11px;line-height:12px;color:#111;letter-spacing:-0.320px;white-space:pre;">Rolling machine 1</div>
<div class="t" style="left:389.00px;top:340px;font-size:11px;line-height:12px;color:#111;letter-spacing:-0.207px;white-space:pre;">Rollköpfe</div>
<div class="t" style="left:488.00px;top:340px;font-size:11px;line-height:12px;color:#111;letter-spacing:-0.418px;white-space:pre;">Messraum</div>
<div class="r" style="left:800px;top:337px;width:49px;height:18px;background:#ffd700;"></div>
<div class="r" style="left:40px;top:374px;width:902px;height:1px;background:#c3c3c3;"></div>
<div class="r" style="left:58px;top:358px;width:13px;height:13px;background:#fff;border:1px solid #d0d0d0;box-sizing:border-box"></div>
<div class="t" style="left:92.00px;top:359px;font-size:11px;line-height:12px;color:#111;letter-spacing:-0.050px;white-space:pre;">4804 A Connect...</div>
<div class="t" style="left:191.00px;top:359px;font-size:11px;line-height:12px;color:#111;letter-spacing:-0.091px;white-space:pre;">Injection molding</div>
<div class="t" style="left:290.00px;top:359px;font-size:11px;line-height:12px;color:#111;letter-spacing:-0.086px;white-space:pre;">Injection molding...</div>
<div class="t" style="left:389.00px;top:359px;font-size:11px;line-height:12px;color:#111;letter-spacing:0.056px;white-space:pre;">Injection tool 10</div>
<div class="t" style="left:488.00px;top:359px;font-size:11px;line-height:12px;color:#111;letter-spacing:-0.418px;white-space:pre;">Messraum</div>
<div class="r" style="left:800px;top:356px;width:49px;height:18px;background:#4ead33;"></div>
<div class="r" style="left:40px;top:393px;width:902px;height:1px;background:#c3c3c3;"></div>
<div class="r" style="left:58px;top:377px;width:13px;height:13px;background:#fff;border:1px solid #d0d0d0;box-sizing:border-box"></div>
<div class="t" style="left:92.00px;top:378px;font-size:11px;line-height:12px;color:#111;letter-spacing:-0.126px;white-space:pre;">8977 Housing (T...</div>
<div class="t" style="left:488.00px;top:378px;font-size:11px;line-height:12px;color:#111;letter-spacing:-0.418px;white-space:pre;">Messraum</div>
<div class="t" style="left:587.00px;top:378px;font-size:11px;line-height:12px;color:#111;letter-spacing:-0.166px;white-space:pre;">5   Müller Drehteile</div>
<div class="r" style="left:800px;top:375px;width:49px;height:18px;background:#4ead33;"></div>
<div class="r" style="left:40px;top:412px;width:902px;height:1px;background:#c3c3c3;"></div>
<div class="r" style="left:58px;top:396px;width:13px;height:13px;background:#fff;border:1px solid #d0d0d0;box-sizing:border-box"></div>
<div class="t" style="left:92.00px;top:397px;font-size:11px;line-height:12px;color:#111;letter-spacing:-0.126px;white-space:pre;">8977 Housing (T...</div>
<div class="t" style="left:389.00px;top:397px;font-size:11px;line-height:12px;color:#111;letter-spacing:0.105px;white-space:pre;">Injection tool 4.1</div>
<div class="t" style="left:488.00px;top:397px;font-size:11px;line-height:12px;color:#111;letter-spacing:-0.418px;white-space:pre;">Messraum</div>
<div class="t" style="left:587.00px;top:397px;font-size:11px;line-height:12px;color:#111;letter-spacing:-0.141px;white-space:pre;">1   Fahrzeugbau</div>
<div class="r" style="left:800px;top:394px;width:49px;height:18px;background:#ffd700;"></div>
<div class="r" style="left:40px;top:431px;width:902px;height:1px;background:#c3c3c3;"></div>
<div class="r" style="left:58px;top:415px;width:13px;height:13px;background:#fff;border:1px solid #d0d0d0;box-sizing:border-box"></div>
<div class="t" style="left:92.00px;top:416px;font-size:11px;line-height:12px;color:#111;letter-spacing:-0.126px;white-space:pre;">8977 Housing (T...</div>
<div class="t" style="left:191.00px;top:416px;font-size:11px;line-height:12px;color:#111;letter-spacing:-0.091px;white-space:pre;">Injection molding</div>
<div class="t" style="left:290.00px;top:416px;font-size:11px;line-height:12px;color:#111;letter-spacing:-0.086px;white-space:pre;">Injection molding...</div>
<div class="t" style="left:389.00px;top:416px;font-size:11px;line-height:12px;color:#111;letter-spacing:0.066px;white-space:pre;">Injection tool 2</div>
<div class="t" style="left:488.00px;top:416px;font-size:11px;line-height:12px;color:#111;letter-spacing:-0.418px;white-space:pre;">Messraum</div>
<div class="r" style="left:800px;top:413px;width:49px;height:18px;background:#4ead33;"></div>
<div class="r" style="left:40px;top:432px;width:902px;height:19px;background:#c11a3b;"></div>
<div class="r" style="left:87px;top:432px;width:1px;height:19px;background:#e8a0b0;"></div>
<div class="r" style="left:186px;top:432px;width:1px;height:19px;background:#e8a0b0;"></div>
<div class="r" style="left:285px;top:432px;width:1px;height:19px;background:#e8a0b0;"></div>
<div class="r" style="left:384px;top:432px;width:1px;height:19px;background:#e8a0b0;"></div>
<div class="r" style="left:483px;top:432px;width:1px;height:19px;background:#e8a0b0;"></div>
<div class="r" style="left:582px;top:432px;width:1px;height:19px;background:#e8a0b0;"></div>
<div class="r" style="left:749px;top:432px;width:1px;height:19px;background:#e8a0b0;"></div>
<div class="r" style="left:799px;top:432px;width:1px;height:19px;background:#e8a0b0;"></div>
<div class="r" style="left:849px;top:432px;width:1px;height:19px;background:#e8a0b0;"></div>
<div class="r" style="left:899px;top:432px;width:1px;height:19px;background:#e8a0b0;"></div>
<div class="r" style="left:58px;top:434px;width:13px;height:13px;background:#fff;border:1px solid #d0d0d0;box-sizing:border-box"></div>
<div class="t" style="left:92.00px;top:435px;font-size:11px;line-height:12px;color:#fff;letter-spacing:-0.161px;white-space:pre;">8976 Housing (7...</div>
<div class="r" style="left:187px;top:432px;width:98px;height:19px;background:#fff;border:1px dotted #222;box-sizing:border-box"></div>
<div class="t" style="left:191.00px;top:435px;font-size:11px;line-height:12px;color:#111;letter-spacing:-0.091px;white-space:pre;">Injection molding</div>
<div class="t" style="left:290.00px;top:435px;font-size:11px;line-height:12px;color:#fff;letter-spacing:-0.086px;white-space:pre;">Injection molding...</div>
<div class="t" style="left:389.00px;top:435px;font-size:11px;line-height:12px;color:#fff;letter-spacing:0.105px;white-space:pre;">Injection tool 1.1</div>
<div class="t" style="left:488.00px;top:435px;font-size:11px;line-height:12px;color:#fff;letter-spacing:-0.418px;white-space:pre;">Messraum</div>
<div class="r" style="left:800px;top:432px;width:49px;height:19px;background:#ffd700;"></div>
<div class="r" style="left:695px;top:259px;width:5px;height:192px;background:#c6c6c6;"></div>
<svg class="r" style="left:946px;top:303px" width="10" height="6"><path d="M0 5.5h10l-5-5z" fill="#ddd"/></svg>
<div class="r" style="left:946px;top:389px;width:9px;height:48px;background:#d9d9d9;"></div>
<svg class="r" style="left:946px;top:440px" width="10" height="6"><path d="M0 0h10l-5 5z" fill="#ddd"/></svg>
<div class="r" style="left:40px;top:451px;width:919px;height:20px;background:#fcfcfc;"></div>
<svg class="r" style="left:46px;top:458px" width="5" height="9"><path d="M5 0v9l-5-4.5z" fill="#ddd"/></svg>
<div class="r" style="left:58px;top:459px;width:349px;height:7px;background:#d9d9d9;"></div>
<svg class="r" style="left:930px;top:458px" width="5" height="9"><path d="M0 0v9l5-4.5z" fill="#ddd"/></svg>
<div class="r" style="left:40px;top:471px;width:919px;height:24px;background:#fbfbfb;"></div>
<div class="r" style="left:46px;top:473px;width:83px;height:21px;background:#c11a3b;"></div>
<svg class="r" style="left:49px;top:476px" width="15" height="15"><rect x="0.5" y="0.5" width="14" height="14" fill="#fff" stroke="#a0a4b8"/><rect x="1" y="2.2" width="13" height="2" fill="#3454a8"/><path d="M5.3 4v10M9.8 4v10" stroke="#d8d4dc" stroke-width="1"/><path d="M1 7.5h13M1 11h13" stroke="#ece8ee" stroke-width="0.8"/></svg>
<div class="t" style="left:69.00px;top:479px;font-size:11px;line-height:12px;color:#fff;font-weight:bold;letter-spacing:0.635px;">Overview</div>
<svg class="r" style="left:944px;top:480px" width="9" height="9"><path d="M1 1l7 7M8 1l-7 7" stroke="#1a2a6a" stroke-width="1.6"/></svg>
<div class="r" style="left:41px;top:495px;width:918px;height:4px;background:#cbcbcb;"></div>
<div class="r" style="left:40px;top:499px;width:919px;height:498px;background:#fbfbfb;"></div>
<div class="r" style="left:91px;top:512px;width:455px;height:434px;background:#fff;"></div>
<svg class="r" style="left:0;top:0" width="960" height="1040" shape-rendering="crispEdges"><rect x="91" y="945" width="455" height="1" fill="#c6c6c6"/><rect x="85" y="945" width="6" height="1" fill="#b0b0b0"/><rect x="89" y="943" width="2" height="1" fill="#cccccc"/><rect x="91" y="940" width="455" height="1" fill="#c6c6c6"/><rect x="87" y="940" width="4" height="1" fill="#bcbcbc"/><rect x="89" y="937" width="2" height="1" fill="#cccccc"/><rect x="91" y="934" width="455" height="1" fill="#c6c6c6"/><rect x="87" y="934" width="4" height="1" fill="#bcbcbc"/><rect x="89" y="932" width="2" height="1" fill="#cccccc"/><rect x="91" y="929" width="455" height="1" fill="#c6c6c6"/><rect x="87" y="929" width="4" height="1" fill="#bcbcbc"/><rect x="89" y="926" width="2" height="1" fill="#cccccc"/><rect x="91" y="924" width="455" height="1" fill="#c6c6c6"/><rect x="85" y="924" width="6" height="1" fill="#b0b0b0"/><rect x="89" y="921" width="2" height="1" fill="#cccccc"/><rect x="91" y="918" width="455" height="1" fill="#c6c6c6"/><rect x="87" y="918" width="4" height="1" fill="#bcbcbc"/><rect x="89" y="916" width="2" height="1" fill="#cccccc"/><rect x="91" y="913" width="455" height="1" fill="#c6c6c6"/><rect x="87" y="913" width="4" height="1" fill="#bcbcbc"/><rect x="89" y="910" width="2" height="1" fill="#cccccc"/><rect x="91" y="907" width="455" height="1" fill="#c6c6c6"/><rect x="87" y="907" width="4" height="1" fill="#bcbcbc"/><rect x="89" y="905" width="2" height="1" fill="#cccccc"/><rect x="91" y="902" width="455" height="1" fill="#c6c6c6"/><rect x="85" y="902" width="6" height="1" fill="#b0b0b0"/><rect x="89" y="899" width="2" height="1" fill="#cccccc"/><rect x="91" y="897" width="455" height="1" fill="#c6c6c6"/><rect x="87" y="897" width="4" height="1" fill="#bcbcbc"/><rect x="89" y="894" width="2" height="1" fill="#cccccc"/><rect x="91" y="891" width="455" height="1" fill="#c6c6c6"/><rect x="87" y="891" width="4" height="1" fill="#bcbcbc"/><rect x="89" y="889" width="2" height="1" fill="#cccccc"/><rect x="91" y="886" width="455" height="1" fill="#c6c6c6"/><rect x="87" y="886" width="4" height="1" fill="#bcbcbc"/><rect x="89" y="883" width="2" height="1" fill="#cccccc"/><rect x="91" y="881" width="455" height="1" fill="#c6c6c6"/><rect x="85" y="881" width="6" height="1" fill="#b0b0b0"/><rect x="89" y="878" width="2" height="1" fill="#cccccc"/><rect x="91" y="875" width="455" height="1" fill="#c6c6c6"/><rect x="87" y="875" width="4" height="1" fill="#bcbcbc"/><rect x="89" y="872" width="2" height="1" fill="#cccccc"/><rect x="91" y="870" width="455" height="1" fill="#c6c6c6"/><rect x="87" y="870" width="4" height="1" fill="#bcbcbc"/><rect x="89" y="867" width="2" height="1" fill="#cccccc"/><rect x="91" y="864" width="455" height="1" fill="#c6c6c6"/><rect x="87" y="864" width="4" height="1" fill="#bcbcbc"/><rect x="89" y="862" width="2" height="1" fill="#cccccc"/><rect x="91" y="859" width="455" height="1" fill="#c6c6c6"/><rect x="85" y="859" width="6" height="1" fill="#b0b0b0"/><rect x="89" y="856" width="2" height="1" fill="#cccccc"/><rect x="91" y="854" width="455" height="1" fill="#c6c6c6"/><rect x="87" y="854" width="4" height="1" fill="#bcbcbc"/><rect x="89" y="851" width="2" height="1" fill="#cccccc"/><rect x="91" y="848" width="455" height="1" fill="#c6c6c6"/><rect x="87" y="848" width="4" height="1" fill="#bcbcbc"/><rect x="89" y="845" width="2" height="1" fill="#cccccc"/><rect x="91" y="843" width="455" height="1" fill="#c6c6c6"/><rect x="87" y="843" width="4" height="1" fill="#bcbcbc"/><rect x="89" y="840" width="2" height="1" fill="#cccccc"/><rect x="91" y="837" width="455" height="1" fill="#c6c6c6"/><rect x="85" y="837" width="6" height="1" fill="#b0b0b0"/><rect x="89" y="835" width="2" height="1" fill="#cccccc"/><rect x="91" y="832" width="455" height="1" fill="#c6c6c6"/><rect x="87" y="832" width="4" height="1" fill="#bcbcbc"/><rect x="89" y="829" width="2" height="1" fill="#cccccc"/><rect x="91" y="827" width="455" height="1" fill="#c6c6c6"/><rect x="87" y="827" width="4" height="1" fill="#bcbcbc"/><rect x="89" y="824" width="2" height="1" fill="#cccccc"/><rect x="91" y="821" width="455" height="1" fill="#c6c6c6"/><rect x="87" y="821" width="4" height="1" fill="#bcbcbc"/><rect x="89" y="818" width="2" height="1" fill="#cccccc"/><rect x="91" y="816" width="455" height="1" fill="#c6c6c6"/><rect x="85" y="816" width="6" height="1" fill="#b0b0b0"/><rect x="89" y="813" width="2" height="1" fill="#cccccc"/><rect x="91" y="810" width="455" height="1" fill="#c6c6c6"/><rect x="87" y="810" width="4" height="1" fill="#bcbcbc"/><rect x="89" y="808" width="2" height="1" fill="#cccccc"/><rect x="91" y="805" width="455" height="1" fill="#c6c6c6"/><rect x="87" y="805" width="4" height="1" fill="#bcbcbc"/><rect x="89" y="802" width="2" height="1" fill="#cccccc"/><rect x="91" y="800" width="455" height="1" fill="#c6c6c6"/><rect x="87" y="800" width="4" height="1" fill="#bcbcbc"/><rect x="89" y="797" width="2" height="1" fill="#cccccc"/><rect x="91" y="794" width="455" height="1" fill="#c6c6c6"/><rect x="85" y="794" width="6" height="1" fill="#b0b0b0"/><rect x="89" y="791" width="2" height="1" fill="#cccccc"/><rect x="91" y="789" width="455" height="1" fill="#c6c6c6"/><rect x="87" y="789" width="4" height="1" fill="#bcbcbc"/><rect x="89" y="786" width="2" height="1" fill="#cccccc"/><rect x="91" y="783" width="455" height="1" fill="#c6c6c6"/><rect x="87" y="783" width="4" height="1" fill="#bcbcbc"/><rect x="89" y="781" width="2" height="1" fill="#cccccc"/><rect x="91" y="778" width="455" height="1" fill="#c6c6c6"/><rect x="87" y="778" width="4" height="1" fill="#bcbcbc"/><rect x="89" y="775" width="2" height="1" fill="#cccccc"/><rect x="91" y="773" width="455" height="1" fill="#c6c6c6"/><rect x="85" y="773" width="6" height="1" fill="#b0b0b0"/><rect x="89" y="770" width="2" height="1" fill="#cccccc"/><rect x="91" y="767" width="455" height="1" fill="#c6c6c6"/><rect x="87" y="767" width="4" height="1" fill="#bcbcbc"/><rect x="89" y="765" width="2" height="1" fill="#cccccc"/><rect x="91" y="762" width="455" height="1" fill="#c6c6c6"/><rect x="87" y="762" width="4" height="1" fill="#bcbcbc"/><rect x="89" y="759" width="2" height="1" fill="#cccccc"/><rect x="91" y="756" width="455" height="1" fill="#c6c6c6"/><rect x="87" y="756" width="4" height="1" fill="#bcbcbc"/><rect x="89" y="754" width="2" height="1" fill="#cccccc"/><rect x="91" y="751" width="455" height="1" fill="#c6c6c6"/><rect x="85" y="751" width="6" height="1" fill="#b0b0b0"/><rect x="89" y="748" width="2" height="1" fill="#cccccc"/><rect x="91" y="746" width="455" height="1" fill="#c6c6c6"/><rect x="87" y="746" width="4" height="1" fill="#bcbcbc"/><rect x="89" y="743" width="2" height="1" fill="#cccccc"/><rect x="91" y="740" width="455" height="1" fill="#c6c6c6"/><rect x="87" y="740" width="4" height="1" fill="#bcbcbc"/><rect x="89" y="738" width="2" height="1" fill="#cccccc"/><rect x="91" y="735" width="455" height="1" fill="#c6c6c6"/><rect x="87" y="735" width="4" height="1" fill="#bcbcbc"/><rect x="89" y="732" width="2" height="1" fill="#cccccc"/><rect x="91" y="729" width="455" height="1" fill="#c6c6c6"/><rect x="85" y="729" width="6" height="1" fill="#b0b0b0"/><rect x="89" y="727" width="2" height="1" fill="#cccccc"/><rect x="91" y="724" width="455" height="1" fill="#c6c6c6"/><rect x="87" y="724" width="4" height="1" fill="#bcbcbc"/><rect x="89" y="721" width="2" height="1" fill="#cccccc"/><rect x="91" y="719" width="455" height="1" fill="#c6c6c6"/><rect x="87" y="719" width="4" height="1" fill="#bcbcbc"/><rect x="89" y="716" width="2" height="1" fill="#cccccc"/><rect x="91" y="713" width="455" height="1" fill="#c6c6c6"/><rect x="87" y="713" width="4" height="1" fill="#bcbcbc"/><rect x="89" y="711" width="2" height="1" fill="#cccccc"/><rect x="91" y="708" width="455" height="1" fill="#c6c6c6"/><rect x="85" y="708" width="6" height="1" fill="#b0b0b0"/><rect x="89" y="705" width="2" height="1" fill="#cccccc"/><rect x="91" y="702" width="455" height="1" fill="#c6c6c6"/><rect x="87" y="702" width="4" height="1" fill="#bcbcbc"/><rect x="89" y="700" width="2" height="1" fill="#cccccc"/><rect x="91" y="697" width="455" height="1" fill="#c6c6c6"/><rect x="87" y="697" width="4" height="1" fill="#bcbcbc"/><rect x="89" y="694" width="2" height="1" fill="#cccccc"/><rect x="91" y="692" width="455" height="1" fill="#c6c6c6"/><rect x="87" y="692" width="4" height="1" fill="#bcbcbc"/><rect x="89" y="689" width="2" height="1" fill="#cccccc"/><rect x="91" y="686" width="455" height="1" fill="#c6c6c6"/><rect x="85" y="686" width="6" height="1" fill="#b0b0b0"/><rect x="89" y="684" width="2" height="1" fill="#cccccc"/><rect x="91" y="681" width="455" height="1" fill="#c6c6c6"/><rect x="87" y="681" width="4" height="1" fill="#bcbcbc"/><rect x="89" y="678" width="2" height="1" fill="#cccccc"/><rect x="91" y="676" width="455" height="1" fill="#c6c6c6"/><rect x="87" y="676" width="4" height="1" fill="#bcbcbc"/><rect x="89" y="673" width="2" height="1" fill="#cccccc"/><rect x="91" y="670" width="455" height="1" fill="#c6c6c6"/><rect x="87" y="670" width="4" height="1" fill="#bcbcbc"/><rect x="89" y="667" width="2" height="1" fill="#cccccc"/><rect x="91" y="665" width="455" height="1" fill="#c6c6c6"/><rect x="85" y="665" width="6" height="1" fill="#b0b0b0"/><rect x="89" y="662" width="2" height="1" fill="#cccccc"/><rect x="91" y="659" width="455" height="1" fill="#c6c6c6"/><rect x="87" y="659" width="4" height="1" fill="#bcbcbc"/><rect x="89" y="657" width="2" height="1" fill="#cccccc"/><rect x="91" y="654" width="455" height="1" fill="#c6c6c6"/><rect x="87" y="654" width="4" height="1" fill="#bcbcbc"/><rect x="89" y="651" width="2" height="1" fill="#cccccc"/><rect x="91" y="649" width="455" height="1" fill="#c6c6c6"/><rect x="87" y="649" width="4" height="1" fill="#bcbcbc"/><rect x="89" y="646" width="2" height="1" fill="#cccccc"/><rect x="91" y="643" width="455" height="1" fill="#c6c6c6"/><rect x="85" y="643" width="6" height="1" fill="#b0b0b0"/><rect x="89" y="640" width="2" height="1" fill="#cccccc"/><rect x="91" y="638" width="455" height="1" fill="#c6c6c6"/><rect x="87" y="638" width="4" height="1" fill="#bcbcbc"/><rect x="89" y="635" width="2" height="1" fill="#cccccc"/><rect x="91" y="632" width="455" height="1" fill="#c6c6c6"/><rect x="87" y="632" width="4" height="1" fill="#bcbcbc"/><rect x="89" y="630" width="2" height="1" fill="#cccccc"/><rect x="91" y="627" width="455" height="1" fill="#c6c6c6"/><rect x="87" y="627" width="4" height="1" fill="#bcbcbc"/><rect x="89" y="624" width="2" height="1" fill="#cccccc"/><rect x="91" y="622" width="455" height="1" fill="#c6c6c6"/><rect x="85" y="622" width="6" height="1" fill="#b0b0b0"/><rect x="89" y="619" width="2" height="1" fill="#cccccc"/><rect x="91" y="616" width="455" height="1" fill="#c6c6c6"/><rect x="87" y="616" width="4" height="1" fill="#bcbcbc"/><rect x="89" y="613" width="2" height="1" fill="#cccccc"/><rect x="91" y="611" width="455" height="1" fill="#c6c6c6"/><rect x="87" y="611" width="4" height="1" fill="#bcbcbc"/><rect x="89" y="608" width="2" height="1" fill="#cccccc"/><rect x="91" y="605" width="455" height="1" fill="#c6c6c6"/><rect x="87" y="605" width="4" height="1" fill="#bcbcbc"/><rect x="89" y="603" width="2" height="1" fill="#cccccc"/><rect x="91" y="600" width="455" height="1" fill="#c6c6c6"/><rect x="85" y="600" width="6" height="1" fill="#b0b0b0"/><rect x="89" y="597" width="2" height="1" fill="#cccccc"/><rect x="91" y="595" width="455" height="1" fill="#c6c6c6"/><rect x="87" y="595" width="4" height="1" fill="#bcbcbc"/><rect x="89" y="592" width="2" height="1" fill="#cccccc"/><rect x="91" y="589" width="455" height="1" fill="#c6c6c6"/><rect x="87" y="589" width="4" height="1" fill="#bcbcbc"/><rect x="89" y="586" width="2" height="1" fill="#cccccc"/><rect x="91" y="584" width="455" height="1" fill="#c6c6c6"/><rect x="87" y="584" width="4" height="1" fill="#bcbcbc"/><rect x="89" y="581" width="2" height="1" fill="#cccccc"/><rect x="91" y="578" width="455" height="1" fill="#c6c6c6"/><rect x="85" y="578" width="6" height="1" fill="#b0b0b0"/><rect x="89" y="576" width="2" height="1" fill="#cccccc"/><rect x="91" y="573" width="455" height="1" fill="#c6c6c6"/><rect x="87" y="573" width="4" height="1" fill="#bcbcbc"/><rect x="89" y="570" width="2" height="1" fill="#cccccc"/><rect x="91" y="568" width="455" height="1" fill="#c6c6c6"/><rect x="87" y="568" width="4" height="1" fill="#bcbcbc"/><rect x="89" y="565" width="2" height="1" fill="#cccccc"/><rect x="91" y="562" width="455" height="1" fill="#c6c6c6"/><rect x="87" y="562" width="4" height="1" fill="#bcbcbc"/><rect x="89" y="560" width="2" height="1" fill="#cccccc"/><rect x="91" y="557" width="455" height="1" fill="#c6c6c6"/><rect x="85" y="557" width="6" height="1" fill="#b0b0b0"/><rect x="89" y="554" width="2" height="1" fill="#cccccc"/><rect x="91" y="551" width="455" height="1" fill="#c6c6c6"/><rect x="87" y="551" width="4" height="1" fill="#bcbcbc"/><rect x="89" y="549" width="2" height="1" fill="#cccccc"/><rect x="91" y="546" width="455" height="1" fill="#c6c6c6"/><rect x="87" y="546" width="4" height="1" fill="#bcbcbc"/><rect x="89" y="543" width="2" height="1" fill="#cccccc"/><rect x="91" y="541" width="455" height="1" fill="#c6c6c6"/><rect x="87" y="541" width="4" height="1" fill="#bcbcbc"/><rect x="89" y="538" width="2" height="1" fill="#cccccc"/><rect x="91" y="535" width="455" height="1" fill="#c6c6c6"/><rect x="85" y="535" width="6" height="1" fill="#b0b0b0"/><rect x="89" y="533" width="2" height="1" fill="#cccccc"/><rect x="91" y="530" width="455" height="1" fill="#c6c6c6"/><rect x="87" y="530" width="4" height="1" fill="#bcbcbc"/><rect x="89" y="527" width="2" height="1" fill="#cccccc"/><rect x="91" y="524" width="455" height="1" fill="#c6c6c6"/><rect x="87" y="524" width="4" height="1" fill="#bcbcbc"/><rect x="89" y="522" width="2" height="1" fill="#cccccc"/><rect x="91" y="519" width="455" height="1" fill="#c6c6c6"/><rect x="87" y="519" width="4" height="1" fill="#bcbcbc"/><rect x="89" y="516" width="2" height="1" fill="#cccccc"/><rect x="91" y="514" width="455" height="1" fill="#c6c6c6"/><rect x="85" y="514" width="6" height="1" fill="#b0b0b0"/><rect x="91" y="512" width="455" height="1" fill="#b4b4b4"/><rect x="91" y="512" width="1" height="434" fill="#a8a8a8"/><rect x="545" y="512" width="1" height="434" fill="#b4b4b4"/><rect x="85" y="945" width="461" height="1" fill="#a8a8a8"/><rect x="94" y="946" width="1" height="2" fill="#b8b8b8"/><rect x="109" y="946" width="1" height="6" fill="#a8a8a8"/><rect x="125" y="946" width="1" height="2" fill="#b8b8b8"/><rect x="140" y="946" width="1" height="2" fill="#b8b8b8"/><rect x="155" y="946" width="1" height="2" fill="#b8b8b8"/><rect x="170" y="946" width="1" height="2" fill="#b8b8b8"/><rect x="185" y="946" width="1" height="6" fill="#a8a8a8"/><rect x="200" y="946" width="1" height="2" fill="#b8b8b8"/><rect x="216" y="946" width="1" height="2" fill="#b8b8b8"/><rect x="231" y="946" width="1" height="2" fill="#b8b8b8"/><rect x="246" y="946" width="1" height="2" fill="#b8b8b8"/><rect x="261" y="946" width="1" height="6" fill="#a8a8a8"/><rect x="276" y="946" width="1" height="2" fill="#b8b8b8"/><rect x="291" y="946" width="1" height="2" fill="#b8b8b8"/><rect x="307" y="946" width="1" height="2" fill="#b8b8b8"/><rect x="322" y="946" width="1" height="2" fill="#b8b8b8"/><rect x="337" y="946" width="1" height="6" fill="#a8a8a8"/><rect x="352" y="946" width="1" height="2" fill="#b8b8b8"/><rect x="367" y="946" width="1" height="2" fill="#b8b8b8"/><rect x="382" y="946" width="1" height="2" fill="#b8b8b8"/><rect x="398" y="946" width="1" height="2" fill="#b8b8b8"/><rect x="413" y="946" width="1" height="6" fill="#a8a8a8"/><rect x="428" y="946" width="1" height="2" fill="#b8b8b8"/><rect x="443" y="946" width="1" height="2" fill="#b8b8b8"/><rect x="458" y="946" width="1" height="2" fill="#b8b8b8"/><rect x="473" y="946" width="1" height="2" fill="#b8b8b8"/><rect x="489" y="946" width="1" height="6" fill="#a8a8a8"/><rect x="504" y="946" width="1" height="2" fill="#b8b8b8"/><rect x="519" y="946" width="1" height="2" fill="#b8b8b8"/><rect x="534" y="946" width="1" height="2" fill="#b8b8b8"/></svg>
<div class="r" style="left:167px;top:551.00px;width:38.30000000000001px;height:6.80px;background:#ffd700;"></div>
<div class="r" style="left:167px;top:557.80px;width:38.30000000000001px;height:387.70px;background:#4ead33;"></div>
<div class="r" style="left:180px;top:546px;width:12px;height:15.5px;background:#fff;border:1px solid #ffd700;box-sizing:border-box"></div>
<div class="t" style="left:182.94px;top:548px;font-size:11px;line-height:12px;color:#e6c200;">1</div>
<div class="r" style="left:177.5px;top:744px;width:17px;height:14px;background:#fff;border:1px solid #a4d494;box-sizing:border-box"></div>
<div class="t" style="left:179.88px;top:745px;font-size:11px;line-height:12px;color:#4ead33;">72</div>
<div class="t" style="left:68.30px;top:508px;font-size:11px;line-height:12px;color:#111;letter-spacing:-0.468px;">80</div>
<div class="t" style="left:68.30px;top:529px;font-size:11px;line-height:12px;color:#111;letter-spacing:-0.468px;">76</div>
<div class="t" style="left:68.30px;top:551px;font-size:11px;line-height:12px;color:#111;letter-spacing:-0.468px;">72</div>
<div class="t" style="left:68.30px;top:572px;font-size:11px;line-height:12px;color:#111;letter-spacing:-0.468px;">68</div>
<div class="t" style="left:68.30px;top:594px;font-size:11px;line-height:12px;color:#111;letter-spacing:-0.468px;">64</div>
<div class="t" style="left:68.30px;top:615px;font-size:11px;line-height:12px;color:#111;letter-spacing:-0.468px;">60</div>
<div class="t" style="left:68.30px;top:637px;font-size:11px;line-height:12px;color:#111;letter-spacing:-0.468px;">56</div>
<div class="t" style="left:68.30px;top:659px;font-size:11px;line-height:12px;color:#111;letter-spacing:-0.468px;">52</div>
<div class="t" style="left:68.30px;top:680px;font-size:11px;line-height:12px;color:#111;letter-spacing:-0.468px;">48</div>
<div class="t" style="left:68.30px;top:702px;font-size:11px;line-height:12px;color:#111;letter-spacing:-0.468px;">44</div>
<div class="t" style="left:68.30px;top:723px;font-size:11px;line-height:12px;color:#111;letter-spacing:-0.468px;">40</div>
<div class="t" style="left:68.30px;top:745px;font-size:11px;line-height:12px;color:#111;letter-spacing:-0.468px;">36</div>
<div class="t" style="left:68.30px;top:766px;font-size:11px;line-height:12px;color:#111;letter-spacing:-0.468px;">32</div>
<div class="t" style="left:68.30px;top:788px;font-size:11px;line-height:12px;color:#111;letter-spacing:-0.468px;">28</div>
<div class="t" style="left:68.30px;top:809px;font-size:11px;line-height:12px;color:#111;letter-spacing:-0.468px;">24</div>
<div class="t" style="left:68.30px;top:831px;font-size:11px;line-height:12px;color:#111;letter-spacing:-0.468px;">20</div>
<div class="t" style="left:68.30px;top:853px;font-size:11px;line-height:12px;color:#111;letter-spacing:-0.468px;">16</div>
<div class="t" style="left:68.30px;top:874px;font-size:11px;line-height:12px;color:#111;letter-spacing:-0.468px;">12</div>
<div class="t" style="left:73.48px;top:896px;font-size:11px;line-height:12px;color:#111;">8</div>
<div class="t" style="left:73.48px;top:917px;font-size:11px;line-height:12px;color:#111;">4</div>
<div class="t" style="left:73.48px;top:939px;font-size:11px;line-height:12px;color:#111;">0</div>
<div class="t" style="left:101.46px;top:955px;font-size:11px;line-height:12px;color:#111;letter-spacing:-0.245px;">Jan</div>
<div class="t" style="left:176.29px;top:955px;font-size:11px;line-height:12px;color:#111;letter-spacing:0.019px;">Mar</div>
<div class="t" style="left:251.12px;top:955px;font-size:11px;line-height:12px;color:#111;letter-spacing:0.073px;">May</div>
<div class="t" style="left:330.96px;top:955px;font-size:11px;line-height:12px;color:#111;letter-spacing:-0.354px;">Jul</div>
<div class="t" style="left:404.29px;top:955px;font-size:11px;line-height:12px;color:#111;letter-spacing:-0.524px;">Sep</div>
<div class="t" style="left:479.12px;top:955px;font-size:11px;line-height:12px;color:#111;letter-spacing:0.146px;">Nov</div>
<div class="t" style="left:290.50px;top:973px;font-size:11px;line-height:12px;color:#111;font-weight:bold;letter-spacing:0.581px;">Year 2021</div>
<div class="t" style="left:-8px;top:723px;width:128px;text-align:center;transform:rotate(-90deg);font-size:11px;font-weight:bold;line-height:14px;letter-spacing:0.28px;color:#111">Number of inspections</div>
<div class="r" style="left:395px;top:517px;width:145px;height:58px;background:#fff;border:1px solid #c8ccd2;box-sizing:border-box"></div>
<div class="r" style="left:399px;top:521.2px;width:17.8px;height:13.6px;background:#4ead33;box-shadow:inset 0 0 0 0.6px rgba(0,0,0,0.18)"></div>
<div class="t" style="left:422.00px;top:522px;font-size:11px;line-height:12px;color:#111;letter-spacing:0.097px;">No limit deviation</div>
<div class="r" style="left:399px;top:539.2px;width:17.8px;height:13.6px;background:#ffd700;box-shadow:inset 0 0 0 0.6px rgba(0,0,0,0.18)"></div>
<div class="t" style="left:422.00px;top:540px;font-size:11px;line-height:12px;color:#111;letter-spacing:0.056px;">Control limits deviation</div>
<div class="r" style="left:399px;top:557.2px;width:17.8px;height:13.6px;background:#e2231a;box-shadow:inset 0 0 0 0.6px rgba(0,0,0,0.18)"></div>
<div class="t" style="left:422.00px;top:558px;font-size:11px;line-height:12px;color:#111;letter-spacing:0.112px;">Limit deviation</div>
<svg class="r" style="left:0;top:0" width="960" height="1040"><circle cx="758.8" cy="736.8" r="170.375" fill="none" stroke="#ffd700" stroke-width="31.25"/><circle cx="758.8" cy="736.8" r="129.75" fill="none" stroke="#ffd700" stroke-width="31.5"/><circle cx="758.8" cy="736.8" r="89.875" fill="none" stroke="#4ead33" stroke-width="29.75"/><path d="M863.61 727.76A105.2 105.2 0 0 1 864.00 736.80L833.40 736.80A74.6 74.6 0 0 0 833.12 730.39Z" fill="#ffd700"/></svg>
<div class="t" style="left:675.00px;top:523px;font-size:14px;line-height:16px;color:#111;font-weight:bold;letter-spacing:0.373px;">Full year overview 2021</div>
<div class="t" style="left:727.50px;top:702px;font-size:11px;line-height:12px;color:#222;letter-spacing:0.961px;">Number of</div>
<div class="t" style="left:726.50px;top:715px;font-size:11px;line-height:12px;color:#222;letter-spacing:0.633px;">inspections</div>
<div class="t" style="left:713.60px;top:730px;font-size:38px;line-height:42px;color:#111;letter-spacing:1.366px;">0073</div>
<div class="t" style="left:697.00px;top:933px;font-size:11px;line-height:12px;color:#111;font-weight:bold;letter-spacing:0.275px;">From outside to inside</div>
<div class="t" style="left:708.50px;top:948px;font-size:11px;line-height:12px;color:#111;font-weight:bold;letter-spacing:0.439px;">Year, month, days</div>
<div class="r" style="left:40px;top:226px;width:1px;height:791px;background:#cfcfcf;"></div>
<div class="r" style="left:46px;top:997px;width:65px;height:20px;background:#c11a3b;"></div>
<svg class="r" style="left:50px;top:1001px" width="15" height="15"><rect x="0.5" y="0.5" width="14" height="14" fill="#fff" stroke="#a0a4b8"/><rect x="1" y="2.2" width="13" height="2" fill="#3454a8"/><path d="M5.3 4v10M9.8 4v10" stroke="#d8d4dc" stroke-width="1"/><path d="M1 7.5h13M1 11h13" stroke="#ece8ee" stroke-width="0.8"/></svg>
<div class="t" style="left:70.00px;top:1002px;font-size:12px;line-height:14px;color:#fff;letter-spacing:-0.383px;">Details</div>
<svg class="r" style="left:944px;top:1004px" width="9" height="9"><path d="M1 1l7 7M8 1l-7 7" stroke="#1a2a6a" stroke-width="1.6"/></svg>
<div class="r" style="left:963px;top:186px;width:955px;height:40px;background:#fff;"></div>
<div class="t" style="left:965.00px;top:188px;font-size:20px;line-height:22px;color:#000;letter-spacing:0.024px;">Inspections according to characteristic</div>
<div class="t" style="left:965.00px;top:211px;font-size:11px;line-height:12px;color:#000;letter-spacing:-0.073px;">You can view and edit your analysis here.</div>
<div class="r" style="left:1751px;top:197px;width:99px;height:20px;background:#fff;border:1px solid #c6c6c6;box-sizing:border-box"></div><div class="t" style="left:1755.00px;top:201px;font-size:11px;line-height:12px;color:#000;letter-spacing:-0.081px;">Standard</div><svg class="r" style="left:1839.2px;top:205.2px" width="8" height="5"><path d="M0 0h6.8l-3.4 3.8z" fill="#222"/></svg><div class="t" style="left:1859.80px;top:200px;font-size:12px;line-height:14px;color:#000;letter-spacing:-0.051px;">Options</div><svg class="r" style="left:1906.8px;top:206px" width="6" height="4"><path d="M0 0h5.2l-2.6 2.9z" fill="#222"/></svg>
<div class="r" style="left:963px;top:225px;width:956px;height:571px;background:#c8c8c8;"></div>
<div class="r" style="left:965px;top:228px;width:953px;height:562px;background:#fbfbfb;"></div>
<svg class="r" style="left:0;top:0" width="1920" height="1040"><defs><linearGradient id="ht" x1="0" x2="1" y1="0" y2="0"><stop offset="0" stop-color="#f4c484"/><stop offset="1" stop-color="#c4945c"/></linearGradient><linearGradient id="vt" x1="0" x2="0" y1="0" y2="1"><stop offset="0" stop-color="#f4c484"/><stop offset="1" stop-color="#c4945c"/></linearGradient><linearGradient id="hp" x1="0" x2="1" y1="0" y2="0"><stop offset="0" stop-color="#7472bc"/><stop offset="1" stop-color="#6260a4"/></linearGradient><linearGradient id="vp" x1="0" x2="0" y1="0" y2="1"><stop offset="0" stop-color="#7472bc"/><stop offset="1" stop-color="#6260a4"/></linearGradient><linearGradient id="hk" x1="0" x2="1" y1="0" y2="0"><stop offset="0" stop-color="#000"/><stop offset="1" stop-color="#000"/></linearGradient><linearGradient id="vk" x1="0" x2="0" y1="0" y2="1"><stop offset="0" stop-color="#000"/><stop offset="1" stop-color="#000"/></linearGradient><linearGradient id="hg" x1="0" x2="1" y1="0" y2="0"><stop offset="0" stop-color="#42aa42"/><stop offset="1" stop-color="#2a8a34"/></linearGradient><linearGradient id="vg" x1="0" x2="0" y1="0" y2="1"><stop offset="0" stop-color="#42aa42"/><stop offset="1" stop-color="#2a8a34"/></linearGradient><linearGradient id="hr" x1="0" x2="1" y1="0" y2="0"><stop offset="0" stop-color="#e41a1a"/><stop offset="1" stop-color="#b00e0e"/></linearGradient><linearGradient id="vr" x1="0" x2="0" y1="0" y2="1"><stop offset="0" stop-color="#e41a1a"/><stop offset="1" stop-color="#b00e0e"/></linearGradient><linearGradient id="hy" x1="0" x2="1" y1="0" y2="0"><stop offset="0" stop-color="#f2f220"/><stop offset="1" stop-color="#c4c400"/></linearGradient><linearGradient id="vy" x1="0" x2="0" y1="0" y2="1"><stop offset="0" stop-color="#f2f220"/><stop offset="1" stop-color="#c4c400"/></linearGradient></defs><rect x="1012.5" y="238.4" width="719.0" height="490.20000000000005" fill="#fff"/><rect x="1012.5" y="647.60" width="719.0" height="40.50" fill="#e2e2e2"/><rect x="1012.5" y="566.60" width="719.0" height="40.50" fill="#e2e2e2"/><rect x="1012.5" y="485.60" width="719.0" height="40.50" fill="#e2e2e2"/><rect x="1012.5" y="404.60" width="719.0" height="40.50" fill="#e2e2e2"/><rect x="1012.5" y="323.60" width="719.0" height="40.50" fill="#e2e2e2"/><rect x="1012.5" y="242.60" width="719.0" height="40.50" fill="#e2e2e2"/><rect x="1012.5" y="728.10" width="719.0" height="1" fill="#c4c4c4" shape-rendering="crispEdges"/><rect x="1006.5" y="728.10" width="6" height="1" fill="#a8a8a8" shape-rendering="crispEdges"/><rect x="1009.5" y="714.60" width="3" height="1" fill="#b8b8b8" shape-rendering="crispEdges"/><rect x="1009.5" y="701.10" width="3" height="1" fill="#b8b8b8" shape-rendering="crispEdges"/><rect x="1012.5" y="687.60" width="719.0" height="1" fill="#c4c4c4" shape-rendering="crispEdges"/><rect x="1006.5" y="687.60" width="6" height="1" fill="#a8a8a8" shape-rendering="crispEdges"/><rect x="1009.5" y="674.10" width="3" height="1" fill="#b8b8b8" shape-rendering="crispEdges"/><rect x="1009.5" y="660.60" width="3" height="1" fill="#b8b8b8" shape-rendering="crispEdges"/><rect x="1012.5" y="647.10" width="719.0" height="1" fill="#c4c4c4" shape-rendering="crispEdges"/><rect x="1006.5" y="647.10" width="6" height="1" fill="#a8a8a8" shape-rendering="crispEdges"/><rect x="1009.5" y="633.60" width="3" height="1" fill="#b8b8b8" shape-rendering="crispEdges"/><rect x="1009.5" y="620.10" width="3" height="1" fill="#b8b8b8" shape-rendering="crispEdges"/><rect x="1012.5" y="606.60" width="719.0" height="1" fill="#c4c4c4" shape-rendering="crispEdges"/><rect x="1006.5" y="606.60" width="6" height="1" fill="#a8a8a8" shape-rendering="crispEdges"/><rect x="1009.5" y="593.10" width="3" height="1" fill="#b8b8b8" shape-rendering="crispEdges"/><rect x="1009.5" y="579.60" width="3" height="1" fill="#b8b8b8" shape-rendering="crispEdges"/><rect x="1012.5" y="566.10" width="719.0" height="1" fill="#c4c4c4" shape-rendering="crispEdges"/><rect x="1006.5" y="566.10" width="6" height="1" fill="#a8a8a8" shape-rendering="crispEdges"/><rect x="1009.5" y="552.60" width="3" height="1" fill="#b8b8b8" shape-rendering="crispEdges"/><rect x="1009.5" y="539.10" width="3" height="1" fill="#b8b8b8" shape-rendering="crispEdges"/><rect x="1012.5" y="525.60" width="719.0" height="1" fill="#c4c4c4" shape-rendering="crispEdges"/><rect x="1006.5" y="525.60" width="6" height="1" fill="#a8a8a8" shape-rendering="crispEdges"/><rect x="1009.5" y="512.10" width="3" height="1" fill="#b8b8b8" shape-rendering="crispEdges"/><rect x="1009.5" y="498.60" width="3" height="1" fill="#b8b8b8" shape-rendering="crispEdges"/><rect x="1012.5" y="485.10" width="719.0" height="1" fill="#c4c4c4" shape-rendering="crispEdges"/><rect x="1006.5" y="485.10" width="6" height="1" fill="#a8a8a8" shape-rendering="crispEdges"/><rect x="1009.5" y="471.60" width="3" height="1" fill="#b8b8b8" shape-rendering="crispEdges"/><rect x="1009.5" y="458.10" width="3" height="1" fill="#b8b8b8" shape-rendering="crispEdges"/><rect x="1012.5" y="444.60" width="719.0" height="1" fill="#c4c4c4" shape-rendering="crispEdges"/><rect x="1006.5" y="444.60" width="6" height="1" fill="#a8a8a8" shape-rendering="crispEdges"/><rect x="1009.5" y="431.10" width="3" height="1" fill="#b8b8b8" shape-rendering="crispEdges"/><rect x="1009.5" y="417.60" width="3" height="1" fill="#b8b8b8" shape-rendering="crispEdges"/><rect x="1012.5" y="404.10" width="719.0" height="1" fill="#c4c4c4" shape-rendering="crispEdges"/><rect x="1006.5" y="404.10" width="6" height="1" fill="#a8a8a8" shape-rendering="crispEdges"/><rect x="1009.5" y="390.60" width="3" height="1" fill="#b8b8b8" shape-rendering="crispEdges"/><rect x="1009.5" y="377.10" width="3" height="1" fill="#b8b8b8" shape-rendering="crispEdges"/><rect x="1012.5" y="363.60" width="719.0" height="1" fill="#c4c4c4" shape-rendering="crispEdges"/><rect x="1006.5" y="363.60" width="6" height="1" fill="#a8a8a8" shape-rendering="crispEdges"/><rect x="1009.5" y="350.10" width="3" height="1" fill="#b8b8b8" shape-rendering="crispEdges"/><rect x="1009.5" y="336.60" width="3" height="1" fill="#b8b8b8" shape-rendering="crispEdges"/><rect x="1012.5" y="323.10" width="719.0" height="1" fill="#c4c4c4" shape-rendering="crispEdges"/><rect x="1006.5" y="323.10" width="6" height="1" fill="#a8a8a8" shape-rendering="crispEdges"/><rect x="1009.5" y="309.60" width="3" height="1" fill="#b8b8b8" shape-rendering="crispEdges"/><rect x="1009.5" y="296.10" width="3" height="1" fill="#b8b8b8" shape-rendering="crispEdges"/><rect x="1012.5" y="282.60" width="719.0" height="1" fill="#c4c4c4" shape-rendering="crispEdges"/><rect x="1006.5" y="282.60" width="6" height="1" fill="#a8a8a8" shape-rendering="crispEdges"/><rect x="1009.5" y="269.10" width="3" height="1" fill="#b8b8b8" shape-rendering="crispEdges"/><rect x="1009.5" y="255.60" width="3" height="1" fill="#b8b8b8" shape-rendering="crispEdges"/><rect x="1012.5" y="242.10" width="719.0" height="1" fill="#c4c4c4" shape-rendering="crispEdges"/><rect x="1006.5" y="242.10" width="6" height="1" fill="#a8a8a8" shape-rendering="crispEdges"/><rect x="1029.97" y="238.4" width="1" height="490.20000000000005" fill="#c8c8c8" shape-rendering="crispEdges"/><rect x="1101.88" y="238.4" width="1" height="490.20000000000005" fill="#c8c8c8" shape-rendering="crispEdges"/><rect x="1173.77" y="238.4" width="1" height="490.20000000000005" fill="#c8c8c8" shape-rendering="crispEdges"/><rect x="1245.67" y="238.4" width="1" height="490.20000000000005" fill="#c8c8c8" shape-rendering="crispEdges"/><rect x="1317.57" y="238.4" width="1" height="490.20000000000005" fill="#c8c8c8" shape-rendering="crispEdges"/><rect x="1389.47" y="238.4" width="1" height="490.20000000000005" fill="#c8c8c8" shape-rendering="crispEdges"/><rect x="1461.38" y="238.4" width="1" height="490.20000000000005" fill="#c8c8c8" shape-rendering="crispEdges"/><rect x="1533.28" y="238.4" width="1" height="490.20000000000005" fill="#c8c8c8" shape-rendering="crispEdges"/><rect x="1605.17" y="238.4" width="1" height="490.20000000000005" fill="#c8c8c8" shape-rendering="crispEdges"/><rect x="1677.07" y="238.4" width="1" height="490.20000000000005" fill="#c8c8c8" shape-rendering="crispEdges"/><rect x="1012.5" y="238.4" width="719.0" height="490.20000000000005" fill="none" stroke="#b8b8b8" stroke-width="1" shape-rendering="crispEdges"/><rect x="1006.5" y="728.1" width="725.0" height="1" fill="#a0a0a0" shape-rendering="crispEdges"/><rect x="1015.59" y="728.6" width="1" height="2.5" fill="#b4b4b4" shape-rendering="crispEdges"/><rect x="1029.97" y="728.6" width="1" height="5.5" fill="#a0a0a0" shape-rendering="crispEdges"/><rect x="1044.36" y="728.6" width="1" height="2.5" fill="#b4b4b4" shape-rendering="crispEdges"/><rect x="1058.73" y="728.6" width="1" height="2.5" fill="#b4b4b4" shape-rendering="crispEdges"/><rect x="1073.12" y="728.6" width="1" height="2.5" fill="#b4b4b4" shape-rendering="crispEdges"/><rect x="1087.49" y="728.6" width="1" height="2.5" fill="#b4b4b4" shape-rendering="crispEdges"/><rect x="1101.88" y="728.6" width="1" height="5.5" fill="#a0a0a0" shape-rendering="crispEdges"/><rect x="1116.25" y="728.6" width="1" height="2.5" fill="#b4b4b4" shape-rendering="crispEdges"/><rect x="1130.63" y="728.6" width="1" height="2.5" fill="#b4b4b4" shape-rendering="crispEdges"/><rect x="1145.01" y="728.6" width="1" height="2.5" fill="#b4b4b4" shape-rendering="crispEdges"/><rect x="1159.39" y="728.6" width="1" height="2.5" fill="#b4b4b4" shape-rendering="crispEdges"/><rect x="1173.77" y="728.6" width="1" height="5.5" fill="#a0a0a0" shape-rendering="crispEdges"/><rect x="1188.15" y="728.6" width="1" height="2.5" fill="#b4b4b4" shape-rendering="crispEdges"/><rect x="1202.53" y="728.6" width="1" height="2.5" fill="#b4b4b4" shape-rendering="crispEdges"/><rect x="1216.91" y="728.6" width="1" height="2.5" fill="#b4b4b4" shape-rendering="crispEdges"/><rect x="1231.29" y="728.6" width="1" height="2.5" fill="#b4b4b4" shape-rendering="crispEdges"/><rect x="1245.67" y="728.6" width="1" height="5.5" fill="#a0a0a0" shape-rendering="crispEdges"/><rect x="1260.05" y="728.6" width="1" height="2.5" fill="#b4b4b4" shape-rendering="crispEdges"/><rect x="1274.43" y="728.6" width="1" height="2.5" fill="#b4b4b4" shape-rendering="crispEdges"/><rect x="1288.82" y="728.6" width="1" height="2.5" fill="#b4b4b4" shape-rendering="crispEdges"/><rect x="1303.19" y="728.6" width="1" height="2.5" fill="#b4b4b4" shape-rendering="crispEdges"/><rect x="1317.57" y="728.6" width="1" height="5.5" fill="#a0a0a0" shape-rendering="crispEdges"/><rect x="1331.95" y="728.6" width="1" height="2.5" fill="#b4b4b4" shape-rendering="crispEdges"/><rect x="1346.34" y="728.6" width="1" height="2.5" fill="#b4b4b4" shape-rendering="crispEdges"/><rect x="1360.71" y="728.6" width="1" height="2.5" fill="#b4b4b4" shape-rendering="crispEdges"/><rect x="1375.09" y="728.6" width="1" height="2.5" fill="#b4b4b4" shape-rendering="crispEdges"/><rect x="1389.47" y="728.6" width="1" height="5.5" fill="#a0a0a0" shape-rendering="crispEdges"/><rect x="1403.86" y="728.6" width="1" height="2.5" fill="#b4b4b4" shape-rendering="crispEdges"/><rect x="1418.23" y="728.6" width="1" height="2.5" fill="#b4b4b4" shape-rendering="crispEdges"/><rect x="1432.62" y="728.6" width="1" height="2.5" fill="#b4b4b4" shape-rendering="crispEdges"/><rect x="1446.99" y="728.6" width="1" height="2.5" fill="#b4b4b4" shape-rendering="crispEdges"/><rect x="1461.38" y="728.6" width="1" height="5.5" fill="#a0a0a0" shape-rendering="crispEdges"/><rect x="1475.75" y="728.6" width="1" height="2.5" fill="#b4b4b4" shape-rendering="crispEdges"/><rect x="1490.13" y="728.6" width="1" height="2.5" fill="#b4b4b4" shape-rendering="crispEdges"/><rect x="1504.51" y="728.6" width="1" height="2.5" fill="#b4b4b4" shape-rendering="crispEdges"/><rect x="1518.89" y="728.6" width="1" height="2.5" fill="#b4b4b4" shape-rendering="crispEdges"/><rect x="1533.27" y="728.6" width="1" height="5.5" fill="#a0a0a0" shape-rendering="crispEdges"/><rect x="1547.65" y="728.6" width="1" height="2.5" fill="#b4b4b4" shape-rendering="crispEdges"/><rect x="1562.03" y="728.6" width="1" height="2.5" fill="#b4b4b4" shape-rendering="crispEdges"/><rect x="1576.41" y="728.6" width="1" height="2.5" fill="#b4b4b4" shape-rendering="crispEdges"/><rect x="1590.80" y="728.6" width="1" height="2.5" fill="#b4b4b4" shape-rendering="crispEdges"/><rect x="1605.17" y="728.6" width="1" height="5.5" fill="#a0a0a0" shape-rendering="crispEdges"/><rect x="1619.55" y="728.6" width="1" height="2.5" fill="#b4b4b4" shape-rendering="crispEdges"/><rect x="1633.93" y="728.6" width="1" height="2.5" fill="#b4b4b4" shape-rendering="crispEdges"/><rect x="1648.32" y="728.6" width="1" height="2.5" fill="#b4b4b4" shape-rendering="crispEdges"/><rect x="1662.69" y="728.6" width="1" height="2.5" fill="#b4b4b4" shape-rendering="crispEdges"/><rect x="1677.08" y="728.6" width="1" height="5.5" fill="#a0a0a0" shape-rendering="crispEdges"/><rect x="1691.45" y="728.6" width="1" height="2.5" fill="#b4b4b4" shape-rendering="crispEdges"/><rect x="1705.84" y="728.6" width="1" height="2.5" fill="#b4b4b4" shape-rendering="crispEdges"/><rect x="1720.21" y="728.6" width="1" height="2.5" fill="#b4b4b4" shape-rendering="crispEdges"/><rect x="1021.77" y="708.35" width="18" height="20.25" fill="url(#ht)" stroke="#a87840" stroke-width="0.9"/><rect x="1057.72" y="708.35" width="18" height="20.25" fill="url(#hp)" stroke="#5858a0" stroke-width="0.9"/><rect x="1093.67" y="708.35" width="18" height="20.25" fill="url(#hk)" stroke="#000" stroke-width="0.9"/><rect x="1129.62" y="688.10" width="18" height="40.50" fill="url(#hg)" stroke="#2a8030" stroke-width="0.9"/><rect x="1165.57" y="667.85" width="18" height="60.75" fill="url(#hr)" stroke="#b01010" stroke-width="0.9"/><rect x="1201.52" y="667.85" width="18" height="60.75" fill="url(#ht)" stroke="#a87840" stroke-width="0.9"/><rect x="1237.47" y="667.85" width="18" height="60.75" fill="url(#hy)" stroke="#a8a800" stroke-width="0.9"/><rect x="1273.42" y="647.60" width="18" height="81.00" fill="url(#ht)" stroke="#a87840" stroke-width="0.9"/><rect x="1309.37" y="647.60" width="18" height="81.00" fill="url(#hp)" stroke="#5858a0" stroke-width="0.9"/><rect x="1345.32" y="647.60" width="18" height="81.00" fill="url(#hk)" stroke="#000" stroke-width="0.9"/><rect x="1381.27" y="627.35" width="18" height="101.25" fill="url(#hg)" stroke="#2a8030" stroke-width="0.9"/><rect x="1417.22" y="627.35" width="18" height="101.25" fill="url(#hr)" stroke="#b01010" stroke-width="0.9"/><rect x="1453.17" y="607.10" width="18" height="121.50" fill="url(#ht)" stroke="#a87840" stroke-width="0.9"/><rect x="1489.12" y="607.10" width="18" height="121.50" fill="url(#hy)" stroke="#a8a800" stroke-width="0.9"/><rect x="1525.08" y="586.85" width="18" height="141.75" fill="url(#ht)" stroke="#a87840" stroke-width="0.9"/><rect x="1561.02" y="505.85" width="18" height="222.75" fill="url(#hp)" stroke="#5858a0" stroke-width="0.9"/><rect x="1596.97" y="505.85" width="18" height="222.75" fill="url(#hk)" stroke="#000" stroke-width="0.9"/><rect x="1632.92" y="505.85" width="18" height="222.75" fill="url(#hg)" stroke="#2a8030" stroke-width="0.9"/><rect x="1668.87" y="283.10" width="18" height="445.50" fill="url(#hr)" stroke="#b01010" stroke-width="0.9"/><rect x="1704.83" y="283.10" width="18" height="445.50" fill="url(#ht)" stroke="#a87840" stroke-width="0.9"/><rect x="1742.5" y="238.5" width="165" height="362.5" fill="#fbfbfb" stroke="#d4d4d4" stroke-width="1"/><rect x="1746.3" y="242.30" width="17.6" height="13.4" fill="url(#vt)"/><rect x="1746.3" y="260.30" width="17.6" height="13.4" fill="url(#vp)"/><rect x="1746.3" y="278.30" width="17.6" height="13.4" fill="url(#vk)"/><rect x="1746.3" y="296.30" width="17.6" height="13.4" fill="url(#vg)"/><rect x="1746.3" y="314.30" width="17.6" height="13.4" fill="url(#vr)"/><rect x="1746.3" y="332.30" width="17.6" height="13.4" fill="url(#vt)"/><rect x="1746.3" y="350.30" width="17.6" height="13.4" fill="url(#vy)"/><rect x="1746.3" y="368.30" width="17.6" height="13.4" fill="url(#vt)"/><rect x="1746.3" y="386.30" width="17.6" height="13.4" fill="url(#vp)"/><rect x="1746.3" y="404.30" width="17.6" height="13.4" fill="url(#vk)"/><rect x="1746.3" y="422.30" width="17.6" height="13.4" fill="url(#vg)"/><rect x="1746.3" y="440.30" width="17.6" height="13.4" fill="url(#vr)"/><rect x="1746.3" y="458.30" width="17.6" height="13.4" fill="url(#vt)"/><rect x="1746.3" y="476.30" width="17.6" height="13.4" fill="url(#vy)"/><rect x="1746.3" y="494.30" width="17.6" height="13.4" fill="url(#vt)"/><rect x="1746.3" y="512.30" width="17.6" height="13.4" fill="url(#vp)"/><rect x="1746.3" y="530.30" width="17.6" height="13.4" fill="url(#vk)"/><rect x="1746.3" y="548.30" width="17.6" height="13.4" fill="url(#vg)"/><rect x="1746.3" y="566.30" width="17.6" height="13.4" fill="url(#vr)"/><rect x="1746.3" y="584.30" width="17.6" height="13.4" fill="url(#vt)"/></svg>
<div class="t" style="left:1769.60px;top:243px;font-size:11px;line-height:12px;color:#111;">1 Diameter 1</div>
<div class="t" style="left:1769.60px;top:261px;font-size:11px;line-height:12px;color:#111;">1 Diameter 2</div>
<div class="t" style="left:1769.60px;top:279px;font-size:11px;line-height:12px;color:#111;letter-spacing:-0.136px;">1 Rotation speed</div>
<div class="t" style="left:1769.60px;top:297px;font-size:11px;line-height:12px;color:#111;letter-spacing:-0.072px;">2 Machine parameters</div>
<div class="t" style="left:1769.60px;top:315px;font-size:11px;line-height:12px;color:#111;letter-spacing:0.006px;">3 138,00 (0,15 / -0,15)</div>
<div class="t" style="left:1769.60px;top:333px;font-size:11px;line-height:12px;color:#111;letter-spacing:0.006px;">3 146,00 (0,15 / -0,15)</div>
<div class="t" style="left:1769.60px;top:351px;font-size:11px;line-height:12px;color:#111;letter-spacing:0.006px;">3 168,53 (0,22 / -0,22)</div>
<div class="t" style="left:1769.60px;top:369px;font-size:11px;line-height:12px;color:#111;letter-spacing:0.012px;">4 13,22 (0,05 / -0,05)</div>
<div class="t" style="left:1769.60px;top:387px;font-size:11px;line-height:12px;color:#111;letter-spacing:-0.016px;">4 Bore Burr free</div>
<div class="t" style="left:1769.60px;top:405px;font-size:11px;line-height:12px;color:#111;letter-spacing:0.169px;">4 Position</div>
<div class="t" style="left:1769.60px;top:423px;font-size:11px;line-height:12px;color:#111;letter-spacing:0.148px;">5 No color formation</div>
<div class="t" style="left:1769.60px;top:441px;font-size:11px;line-height:12px;color:#111;letter-spacing:-0.042px;">5 Surface free of grease</div>
<div class="t" style="left:1769.60px;top:459px;font-size:11px;line-height:12px;color:#111;">6 Diameter 1</div>
<div class="t" style="left:1769.60px;top:477px;font-size:11px;line-height:12px;color:#111;">6 Diameter 2</div>
<div class="t" style="left:1769.60px;top:495px;font-size:11px;line-height:12px;color:#111;letter-spacing:0.012px;">7 72,75 (0,15 / -0,15)</div>
<div class="t" style="left:1769.60px;top:513px;font-size:11px;line-height:12px;color:#111;letter-spacing:0.076px;">11 angle</div>
<div class="t" style="left:1769.60px;top:531px;font-size:11px;line-height:12px;color:#111;letter-spacing:0.178px;">11 deepening</div>
<div class="t" style="left:1769.60px;top:549px;font-size:11px;line-height:12px;color:#111;letter-spacing:0.050px;">11 distance</div>
<div class="t" style="left:1769.60px;top:567px;font-size:11px;line-height:12px;color:#111;letter-spacing:-0.032px;">22 Ø26,00 (0,00 / 0,00)</div>
<div class="t" style="left:1769.60px;top:585px;font-size:11px;line-height:12px;color:#111;letter-spacing:-0.028px;">22 Ø3,40 (0,00 / 0,00)</div>
<div class="t" style="left:995.18px;top:722px;font-size:11px;line-height:12px;color:#111;">0</div>
<div class="t" style="left:995.18px;top:682px;font-size:11px;line-height:12px;color:#111;">2</div>
<div class="t" style="left:995.18px;top:641px;font-size:11px;line-height:12px;color:#111;">4</div>
<div class="t" style="left:995.18px;top:601px;font-size:11px;line-height:12px;color:#111;">6</div>
<div class="t" style="left:995.18px;top:560px;font-size:11px;line-height:12px;color:#111;">8</div>
<div class="t" style="left:989.06px;top:520px;font-size:11px;line-height:12px;color:#111;">10</div>
<div class="t" style="left:989.06px;top:479px;font-size:11px;line-height:12px;color:#111;">12</div>
<div class="t" style="left:989.06px;top:439px;font-size:11px;line-height:12px;color:#111;">14</div>
<div class="t" style="left:989.06px;top:398px;font-size:11px;line-height:12px;color:#111;">16</div>
<div class="t" style="left:989.06px;top:358px;font-size:11px;line-height:12px;color:#111;">18</div>
<div class="t" style="left:989.06px;top:317px;font-size:11px;line-height:12px;color:#111;">20</div>
<div class="t" style="left:989.06px;top:277px;font-size:11px;line-height:12px;color:#111;">22</div>
<div class="t" style="left:989.06px;top:236px;font-size:11px;line-height:12px;color:#111;">24</div>
<div class="t" style="left:1066.60px;top:738px;font-size:11px;line-height:12px;color:#111;letter-spacing:-0.143px;">Rotation speed</div>
<div class="t" style="left:1197.00px;top:738px;font-size:11px;line-height:12px;color:#111;letter-spacing:0.015px;">168,53 (0,22 / -0,22)</div>
<div class="t" style="left:1343.00px;top:738px;font-size:11px;line-height:12px;color:#111;letter-spacing:0.174px;">No color formation</div>
<div class="t" style="left:1487.00px;top:738px;font-size:11px;line-height:12px;color:#111;letter-spacing:0.022px;">72,75 (0,15 / -0,15)</div>
<div class="t" style="left:1629.00px;top:738px;font-size:11px;line-height:12px;color:#111;letter-spacing:-0.023px;">Ø26,00 (0,00 / 0,00)</div>
<div class="t" style="left:994.50px;top:753px;font-size:11px;line-height:12px;color:#111;letter-spacing:0.020px;">Diameter 1</div>
<div class="t" style="left:1125.80px;top:753px;font-size:11px;line-height:12px;color:#111;letter-spacing:-0.032px;">138,00 (0,15 / -0,15)</div>
<div class="t" style="left:1284.00px;top:753px;font-size:11px;line-height:12px;color:#111;letter-spacing:-0.006px;">Bore Burr free</div>
<div class="t" style="left:1434.50px;top:753px;font-size:11px;line-height:12px;color:#111;letter-spacing:0.020px;">Diameter 1</div>
<div class="t" style="left:1579.50px;top:753px;font-size:11px;line-height:12px;color:#111;letter-spacing:0.068px;">deepening</div>
<div class="t" style="left:1347.50px;top:771px;font-size:11px;line-height:12px;color:#111;font-weight:bold;letter-spacing:0.471px;">Property</div>
<div class="t" style="left:913px;top:477px;width:128px;text-align:center;transform:rotate(-90deg);font-size:11px;font-weight:bold;line-height:14px;letter-spacing:0.25px;color:#111">Number of inspections</div>
<div class="r" style="left:963px;top:796px;width:957px;height:221px;background:#fbfbfb;"></div>
<div class="t" style="left:974.00px;top:815px;font-size:11px;line-height:12px;color:#111;letter-spacing:-0.075px;">Title</div>
<div class="r" style="left:1074px;top:811px;width:692px;height:19px;background:#e8e8e8;border:1px solid #c4c4c4;box-sizing:border-box"></div>
<div class="t" style="left:1078.00px;top:814px;font-size:11px;line-height:12px;color:#111;letter-spacing:-0.064px;">Inspections according to characteristic</div>
<div class="t" style="left:1773.00px;top:815px;font-size:11px;line-height:12px;color:#111;letter-spacing:-0.214px;">CR-Tag</div>
<div class="r" style="left:1834px;top:811px;width:75px;height:19px;background:#e8e8e8;border:1px solid #c4c4c4;box-sizing:border-box"></div>
<div class="t" style="left:1838.00px;top:814px;font-size:11px;line-height:12px;color:#111;letter-spacing:-0.329px;">ANA309</div>
<div class="t" style="left:971.00px;top:846px;font-size:11px;line-height:12px;color:#111;letter-spacing:-0.184px;">Description</div>
<div class="r" style="left:972px;top:860px;width:937px;height:124px;background:#e8e8e8;border:1px solid #c4c4c4;box-sizing:border-box"></div>
<div class="r" style="left:1891px;top:861px;width:17px;height:122px;background:#f4f4f4;"></div>
<svg class="r" style="left:1895px;top:866px" width="10" height="6"><path d="M0 5.5h10l-5-5z" fill="#ddd"/></svg>
<svg class="r" style="left:1895px;top:971px" width="10" height="6"><path d="M0 0h10l-5 5z" fill="#ddd"/></svg>
<div class="r" style="left:968px;top:997px;width:76px;height:20px;background:#c11a3b;"></div>
<svg class="r" style="left:0;top:0" width="1920" height="1040"><path d="M978.00 1007.60L977.76 1000.60A7 7 0 0 1 982.68 1012.80Z" fill="#ee3018"/><path d="M978.30 1008.70L982.98 1013.90A7 7 0 0 1 973.10 1013.38Z" fill="#3878c8"/><path d="M978.00 1007.60L972.80 1012.28A7 7 0 0 1 971.00 1007.84Z" fill="#70bc38"/><path d="M978.00 1007.60L971.00 1007.84A7 7 0 0 1 977.76 1000.60Z" fill="#fad018"/></svg>
<div class="t" style="left:991.00px;top:1002px;font-size:12px;line-height:14px;color:#fff;font-weight:bold;letter-spacing:-0.795px;">Analysis</div>
<svg class="r" style="left:1904.5px;top:1004px" width="9" height="9"><path d="M1 1l7 7M8 1l-7 7" stroke="#1a2a6a" stroke-width="1.6"/></svg>
<div class="r" style="left:0px;top:1017px;width:1920px;height:23px;background:#c11a3b;"></div>
<div class="t" style="left:4.00px;top:1024px;font-size:12px;line-height:14px;color:#fff;letter-spacing:-0.738px;">Ready</div>
<div class="r" style="left:1607px;top:1022px;width:16px;height:16px;background:#851630;"></div>
<div class="t" style="left:1609.50px;top:1025px;font-size:9px;line-height:10px;color:#fff;font-weight:bold;letter-spacing:-0.751px;">EN</div>
<svg class="r" style="left:1627px;top:1021.5px" width="17" height="17"><path d="M8 1.6l2 4.5 4.9.5-3.7 3.3 1.1 4.8L8 12.2l-4.3 2.5 1.1-4.8L1.1 6.6 6 6.1z" fill="none" stroke="#fff" stroke-width="1.5" stroke-linejoin="miter"/></svg>
<div class="t" style="left:1650.50px;top:1024px;font-size:12px;line-height:14px;color:#fff;letter-spacing:-0.259px;">Meier, Karl</div>
<div class="t" style="left:1713.50px;top:1024px;font-size:12px;line-height:14px;color:#fff;letter-spacing:-0.570px;">IQSNB98</div>
<div class="t" style="left:1767.50px;top:1024px;font-size:12px;line-height:14px;color:#fff;letter-spacing:-0.009px;">plant 001</div>
<div class="t" style="left:1827.00px;top:1024px;font-size:12px;line-height:14px;color:#fff;">--</div>
<div class="t" style="left:1842.60px;top:1024px;font-size:12px;line-height:14px;color:#fff;letter-spacing:-0.025px;">Produktiv</div>
</div></body></html>
